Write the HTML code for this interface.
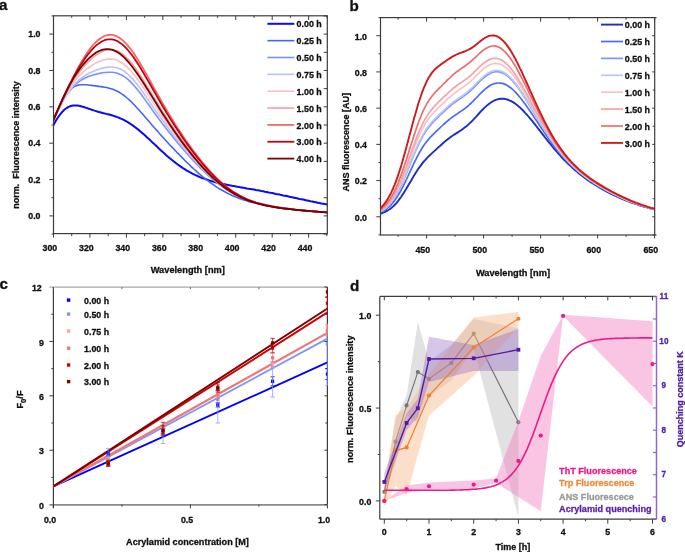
<!DOCTYPE html>
<html><head><meta charset="utf-8"><style>
html,body{margin:0;padding:0;background:#fff;}
svg{display:block;will-change:transform;}
text{stroke-width:0.3px;stroke-linejoin:round;}
</style></head><body>
<svg width="685" height="552" viewBox="0 0 685 552">
<defs>
<clipPath id="clipA"><rect x="53.5" y="15.8" width="273.8" height="217.79999999999998"/></clipPath>
<clipPath id="clipB"><rect x="380.5" y="17.6" width="274.20000000000005" height="217.4"/></clipPath>
<clipPath id="clipC"><rect x="53.4" y="287.1" width="274.0" height="217.5"/></clipPath>
<clipPath id="clipD"><rect x="379.8" y="296.4" width="276.7" height="222.80000000000007"/></clipPath>
</defs>
<rect width="685" height="552" fill="#fff"/>
<g clip-path="url(#clipA)">
<path d="M51.7,128.6L53.5,125.1L55.3,121.8L57.1,118.7L59.0,116.0L60.8,113.6L62.6,111.5L64.4,109.7L66.3,108.3L68.1,107.2L69.9,106.3L71.7,105.8L73.5,105.5L75.4,105.4L77.2,105.5L79.0,105.8L80.8,106.2L82.7,106.7L84.5,107.3L86.3,107.9L88.1,108.5L90.0,109.1L91.8,109.8L93.6,110.4L95.4,110.9L97.2,111.5L99.1,112.0L100.9,112.5L102.7,113.0L104.5,113.4L106.4,113.9L108.2,114.3L110.0,114.8L111.8,115.3L113.6,115.9L115.5,116.5L117.3,117.1L119.1,117.8L120.9,118.6L122.8,119.4L124.6,120.4L126.4,121.4L128.2,122.4L130.0,123.6L131.9,124.8L133.7,126.1L135.5,127.5L137.3,128.9L139.2,130.4L141.0,131.9L142.8,133.5L144.6,135.1L146.4,136.8L148.3,138.4L150.1,140.1L151.9,141.9L153.7,143.6L155.6,145.3L157.4,147.0L159.2,148.7L161.0,150.4L162.8,152.1L164.7,153.8L166.5,155.4L168.3,156.9L170.1,158.5L172.0,160.0L173.8,161.5L175.6,162.9L177.4,164.2L179.3,165.6L181.1,166.8L182.9,168.1L184.7,169.2L186.5,170.3L188.4,171.4L190.2,172.4L192.0,173.4L193.8,174.3L195.7,175.2L197.5,176.0L199.3,176.8L201.1,177.6L202.9,178.3L204.8,178.9L206.6,179.5L208.4,180.1L210.2,180.7L212.1,181.2L213.9,181.7L215.7,182.2L217.5,182.7L219.3,183.1L221.2,183.5L223.0,183.9L224.8,184.3L226.6,184.7L228.5,185.1L230.3,185.4L232.1,185.8L233.9,186.1L235.8,186.4L237.6,186.8L239.4,187.1L241.2,187.4L243.0,187.7L244.9,188.0L246.7,188.4L248.5,188.7L250.3,189.0L252.2,189.3L254.0,189.6L255.8,190.0L257.6,190.3L259.4,190.6L261.3,191.0L263.1,191.3L264.9,191.7L266.7,192.0L268.6,192.4L270.4,192.8L272.2,193.1L274.0,193.5L275.8,193.9L277.7,194.2L279.5,194.6L281.3,195.0L283.1,195.4L285.0,195.7L286.8,196.1L288.6,196.5L290.4,196.9L292.2,197.3L294.1,197.7L295.9,198.1L297.7,198.5L299.5,198.9L301.4,199.2L303.2,199.6L305.0,200.0L306.8,200.4L308.6,200.8L310.5,201.2L312.3,201.5L314.1,201.9L315.9,202.3L317.8,202.7L319.6,203.0L321.4,203.4L323.2,203.7L325.1,204.1L326.9,204.4L328.7,204.8" fill="none" stroke="#0a0af5" stroke-width="2.0" stroke-linejoin="round"/>
<path d="M51.7,125.7L53.5,120.6L55.3,115.9L57.1,111.3L59.0,107.1L60.8,103.3L62.6,99.8L64.4,96.7L66.3,94.0L68.1,91.7L69.9,89.8L71.7,88.2L73.5,87.0L75.4,86.1L77.2,85.4L79.0,85.0L80.8,84.7L82.7,84.7L84.5,84.7L86.3,84.8L88.1,85.0L90.0,85.2L91.8,85.4L93.6,85.7L95.4,85.9L97.2,86.1L99.1,86.4L100.9,86.6L102.7,86.9L104.5,87.2L106.4,87.5L108.2,87.9L110.0,88.4L111.8,88.9L113.6,89.6L115.5,90.4L117.3,91.2L119.1,92.2L120.9,93.4L122.8,94.6L124.6,96.0L126.4,97.5L128.2,99.0L130.0,100.7L131.9,102.5L133.7,104.3L135.5,106.2L137.3,108.2L139.2,110.2L141.0,112.3L142.8,114.3L144.6,116.4L146.4,118.5L148.3,120.6L150.1,122.8L151.9,124.9L153.7,127.0L155.6,129.0L157.4,131.1L159.2,133.2L161.0,135.2L162.8,137.2L164.7,139.2L166.5,141.2L168.3,143.2L170.1,145.2L172.0,147.1L173.8,149.0L175.6,151.0L177.4,152.9L179.3,154.7L181.1,156.6L182.9,158.4L184.7,160.3L186.5,162.0L188.4,163.8L190.2,165.6L192.0,167.3L193.8,169.0L195.7,170.6L197.5,172.3L199.3,173.9L201.1,175.4L202.9,176.9L204.8,178.4L206.6,179.8L208.4,181.2L210.2,182.6L212.1,183.9L213.9,185.2L215.7,186.4L217.5,187.6L219.3,188.7L221.2,189.8L223.0,190.8L224.8,191.8L226.6,192.8L228.5,193.7L230.3,194.6L232.1,195.4L233.9,196.2L235.8,197.0L237.6,197.7L239.4,198.4L241.2,199.0L243.0,199.7L244.9,200.3L246.7,200.8L248.5,201.4L250.3,201.9L252.2,202.4L254.0,202.8L255.8,203.3L257.6,203.7L259.4,204.1L261.3,204.5L263.1,204.9L264.9,205.2L266.7,205.6L268.6,205.9L270.4,206.2L272.2,206.5L274.0,206.8L275.8,207.1L277.7,207.4L279.5,207.6L281.3,207.9L283.1,208.2L285.0,208.4L286.8,208.6L288.6,208.9L290.4,209.1L292.2,209.3L294.1,209.5L295.9,209.7L297.7,209.9L299.5,210.1L301.4,210.3L303.2,210.5L305.0,210.7L306.8,210.9L308.6,211.0L310.5,211.2L312.3,211.4L314.1,211.5L315.9,211.7L317.8,211.9L319.6,212.0L321.4,212.2L323.2,212.3L325.1,212.4L326.9,212.6L328.7,212.7" fill="none" stroke="#4565f5" stroke-width="1.6" stroke-linejoin="round"/>
<path d="M51.7,125.2L53.5,120.4L55.3,116.3L57.1,112.4L59.0,108.6L60.8,105.0L62.6,101.7L64.4,98.5L66.3,95.6L68.1,92.9L69.9,90.5L71.7,88.3L73.5,86.3L75.4,84.5L77.2,82.9L79.0,81.5L80.8,80.3L82.7,79.2L84.5,78.2L86.3,77.4L88.1,76.6L90.0,76.0L91.8,75.4L93.6,74.8L95.4,74.4L97.2,73.9L99.1,73.5L100.9,73.1L102.7,72.8L104.5,72.5L106.4,72.4L108.2,72.2L110.0,72.2L111.8,72.3L113.6,72.5L115.5,72.8L117.3,73.3L119.1,73.9L120.9,74.7L122.8,75.7L124.6,76.9L126.4,78.2L128.2,79.7L130.0,81.4L131.9,83.2L133.7,85.2L135.5,87.2L137.3,89.4L139.2,91.7L141.0,94.1L142.8,96.6L144.6,99.1L146.4,101.6L148.3,104.2L150.1,106.8L151.9,109.4L153.7,112.1L155.6,114.5L157.4,116.9L159.2,119.4L161.0,121.8L162.8,124.2L164.7,126.6L166.5,128.9L168.3,131.2L170.1,133.5L172.0,135.8L173.8,138.1L175.6,140.3L177.4,142.5L179.3,144.7L181.1,146.9L182.9,149.0L184.7,151.1L186.5,153.2L188.4,155.2L190.2,157.3L192.0,159.3L193.8,161.2L195.7,163.1L197.5,165.0L199.3,166.9L201.1,168.7L202.9,170.5L204.8,172.2L206.6,173.9L208.4,175.6L210.2,177.2L212.1,178.8L213.9,180.3L215.7,181.7L217.5,183.2L219.3,184.5L221.2,185.8L223.0,187.1L224.8,188.3L226.6,189.5L228.5,190.6L230.3,191.7L232.1,192.7L233.9,193.7L235.8,194.7L237.6,195.6L239.4,196.4L241.2,197.2L243.0,198.0L244.9,198.7L246.7,199.4L248.5,200.1L250.3,200.7L252.2,201.3L254.0,201.8L255.8,202.4L257.6,202.9L259.4,203.4L261.3,203.8L263.1,204.2L264.9,204.6L266.7,205.0L268.6,205.4L270.4,205.8L272.2,206.1L274.0,206.4L275.8,206.7L277.7,207.0L279.5,207.3L281.3,207.6L283.1,207.8L285.0,208.1L286.8,208.3L288.6,208.6L290.4,208.8L292.2,209.0L294.1,209.2L295.9,209.5L297.7,209.7L299.5,209.9L301.4,210.0L303.2,210.2L305.0,210.4L306.8,210.6L308.6,210.8L310.5,210.9L312.3,211.1L314.1,211.3L315.9,211.4L317.8,211.6L319.6,211.7L321.4,211.9L323.2,212.0L325.1,212.2L326.9,212.3L328.7,212.4" fill="none" stroke="#7b92f6" stroke-width="1.6" stroke-linejoin="round"/>
<path d="M51.7,125.0L53.5,120.3L55.3,116.2L57.1,112.3L59.0,108.6L60.8,105.0L62.6,101.5L64.4,98.3L66.3,95.3L68.1,92.5L69.9,89.9L71.7,87.6L73.5,85.4L75.4,83.4L77.2,81.6L79.0,79.9L80.8,78.4L82.7,77.1L84.5,75.9L86.3,74.7L88.1,73.7L90.0,72.8L91.8,72.0L93.6,71.2L95.4,70.5L97.2,69.8L99.1,69.2L100.9,68.6L102.7,68.1L104.5,67.7L106.4,67.4L108.2,67.1L110.0,67.0L111.8,67.0L113.6,67.2L115.5,67.5L117.3,67.9L119.1,68.5L120.9,69.3L122.8,70.4L124.6,71.5L126.4,72.9L128.2,74.5L130.0,76.2L131.9,78.1L133.7,80.1L135.5,82.2L137.3,84.5L139.2,86.9L141.0,89.4L142.8,91.9L144.6,94.5L146.4,97.2L148.3,99.9L150.1,102.6L151.9,105.3L153.7,108.1L155.6,110.7L157.4,113.2L159.2,115.8L161.0,118.3L162.8,120.8L164.7,123.3L166.5,125.8L168.3,128.2L170.1,130.6L172.0,133.0L173.8,135.4L175.6,137.7L177.4,140.0L179.3,142.3L181.1,144.6L182.9,146.8L184.7,149.0L186.5,151.2L188.4,153.3L190.2,155.4L192.0,157.5L193.8,159.5L195.7,161.5L197.5,163.5L199.3,165.4L201.1,167.3L202.9,169.1L204.8,170.9L206.6,172.7L208.4,174.4L210.2,176.1L212.1,177.7L213.9,179.3L215.7,180.8L217.5,182.3L219.3,183.7L221.2,185.1L223.0,186.4L224.8,187.7L226.6,188.9L228.5,190.1L230.3,191.2L232.1,192.3L233.9,193.3L235.8,194.3L237.6,195.2L239.4,196.1L241.2,197.0L243.0,197.8L244.9,198.5L246.7,199.2L248.5,199.9L250.3,200.6L252.2,201.2L254.0,201.8L255.8,202.3L257.6,202.8L259.4,203.3L261.3,203.8L263.1,204.2L264.9,204.6L266.7,205.0L268.6,205.4L270.4,205.8L272.2,206.1L274.0,206.4L275.8,206.8L277.7,207.1L279.5,207.3L281.3,207.6L283.1,207.9L285.0,208.1L286.8,208.4L288.6,208.6L290.4,208.8L292.2,209.1L294.1,209.3L295.9,209.5L297.7,209.7L299.5,209.9L301.4,210.1L303.2,210.2L305.0,210.4L306.8,210.6L308.6,210.8L310.5,210.9L312.3,211.1L314.1,211.3L315.9,211.4L317.8,211.6L319.6,211.7L321.4,211.9L323.2,212.0L325.1,212.1L326.9,212.3L328.7,212.4" fill="none" stroke="#b6c3fa" stroke-width="1.6" stroke-linejoin="round"/>
<path d="M51.7,124.7L53.5,120.2L55.3,116.0L57.1,111.9L59.0,108.0L60.8,104.2L62.6,100.5L64.4,97.1L66.3,93.8L68.1,90.8L69.9,87.9L71.7,85.2L73.5,82.7L75.4,80.3L77.2,78.2L79.0,76.1L80.8,74.3L82.7,72.5L84.5,70.9L86.3,69.4L88.1,68.0L90.0,66.7L91.8,65.5L93.6,64.4L95.4,63.4L97.2,62.5L99.1,61.6L100.9,60.9L102.7,60.2L104.5,59.7L106.4,59.3L108.2,59.1L110.0,59.0L111.8,59.1L113.6,59.3L115.5,59.7L117.3,60.3L119.1,61.2L120.9,62.2L122.8,63.4L124.6,64.8L126.4,66.3L128.2,68.1L130.0,70.0L131.9,72.0L133.7,74.2L135.5,76.5L137.3,79.0L139.2,81.5L141.0,84.1L142.8,86.8L144.6,89.5L146.4,92.3L148.3,95.1L150.1,97.9L151.9,100.7L153.7,103.6L155.6,106.3L157.4,109.1L159.2,111.8L161.0,114.5L162.8,117.2L164.7,119.8L166.5,122.5L168.3,125.1L170.1,127.6L172.0,130.2L173.8,132.7L175.6,135.1L177.4,137.6L179.3,140.0L181.1,142.4L182.9,144.7L184.7,147.0L186.5,149.3L188.4,151.5L190.2,153.7L192.0,155.9L193.8,158.0L195.7,160.1L197.5,162.2L199.3,164.2L201.1,166.2L202.9,168.1L204.8,170.0L206.6,171.8L208.4,173.6L210.2,175.4L212.1,177.1L213.9,178.7L215.7,180.3L217.5,181.9L219.3,183.3L221.2,184.8L223.0,186.2L224.8,187.5L226.6,188.7L228.5,190.0L230.3,191.1L232.1,192.2L233.9,193.3L235.8,194.3L237.6,195.3L239.4,196.2L241.2,197.1L243.0,197.9L244.9,198.7L246.7,199.4L248.5,200.1L250.3,200.8L252.2,201.4L254.0,202.0L255.8,202.5L257.6,203.0L259.4,203.5L261.3,204.0L263.1,204.5L264.9,204.9L266.7,205.3L268.6,205.6L270.4,206.0L272.2,206.3L274.0,206.7L275.8,207.0L277.7,207.3L279.5,207.5L281.3,207.8L283.1,208.1L285.0,208.3L286.8,208.5L288.6,208.8L290.4,209.0L292.2,209.2L294.1,209.4L295.9,209.6L297.7,209.8L299.5,210.0L301.4,210.2L303.2,210.4L305.0,210.5L306.8,210.7L308.6,210.9L310.5,211.0L312.3,211.2L314.1,211.3L315.9,211.5L317.8,211.6L319.6,211.8L321.4,211.9L323.2,212.1L325.1,212.2L326.9,212.3L328.7,212.5" fill="none" stroke="#f8c0c0" stroke-width="1.6" stroke-linejoin="round"/>
<path d="M51.7,124.4L53.5,120.0L55.3,115.9L57.1,111.8L59.0,107.8L60.8,103.9L62.6,100.1L64.4,96.5L66.3,93.0L68.1,89.6L69.9,86.4L71.7,83.3L73.5,80.4L75.4,77.6L77.2,75.0L79.0,72.5L80.8,70.1L82.7,67.8L84.5,65.7L86.3,63.7L88.1,61.8L90.0,60.1L91.8,58.4L93.6,56.9L95.4,55.5L97.2,54.3L99.1,53.1L100.9,52.1L102.7,51.3L104.5,50.6L106.4,50.1L108.2,49.8L110.0,49.6L111.8,49.7L113.6,49.9L115.5,50.4L117.3,51.1L119.1,51.9L120.9,53.0L122.8,54.3L124.6,55.8L126.4,57.5L128.2,59.4L130.0,61.4L131.9,63.6L133.7,66.0L135.5,68.4L137.3,71.0L139.2,73.7L141.0,76.5L142.8,79.3L144.6,82.2L146.4,85.2L148.3,88.1L150.1,91.2L151.9,94.2L153.7,97.2L155.6,100.2L157.4,103.1L159.2,106.0L161.0,108.9L162.8,111.8L164.7,114.7L166.5,117.5L168.3,120.3L170.1,123.0L172.0,125.8L173.8,128.4L175.6,131.1L177.4,133.7L179.3,136.2L181.1,138.8L182.9,141.3L184.7,143.7L186.5,146.1L188.4,148.5L190.2,150.9L192.0,153.2L193.8,155.4L195.7,157.6L197.5,159.8L199.3,162.0L201.1,164.0L202.9,166.1L204.8,168.1L206.6,170.0L208.4,171.9L210.2,173.8L212.1,175.6L213.9,177.3L215.7,179.0L217.5,180.7L219.3,182.2L221.2,183.8L223.0,185.2L224.8,186.6L226.6,188.0L228.5,189.3L230.3,190.5L232.1,191.7L233.9,192.8L235.8,193.9L237.6,194.9L239.4,195.9L241.2,196.8L243.0,197.6L244.9,198.5L246.7,199.2L248.5,200.0L250.3,200.7L252.2,201.3L254.0,201.9L255.8,202.5L257.6,203.1L259.4,203.6L261.3,204.1L263.1,204.5L264.9,204.9L266.7,205.3L268.6,205.7L270.4,206.1L272.2,206.4L274.0,206.8L275.8,207.1L277.7,207.4L279.5,207.6L281.3,207.9L283.1,208.2L285.0,208.4L286.8,208.6L288.6,208.9L290.4,209.1L292.2,209.3L294.1,209.5L295.9,209.7L297.7,209.9L299.5,210.0L301.4,210.2L303.2,210.4L305.0,210.6L306.8,210.7L308.6,210.9L310.5,211.0L312.3,211.2L314.1,211.4L315.9,211.5L317.8,211.6L319.6,211.8L321.4,211.9L323.2,212.0L325.1,212.2L326.9,212.3L328.7,212.4" fill="none" stroke="#f5a0a0" stroke-width="1.6" stroke-linejoin="round"/>
<path d="M51.7,123.9L53.5,119.8L55.3,115.7L57.1,111.6L59.0,107.5L60.8,103.4L62.6,99.4L64.4,95.4L66.3,91.5L68.1,87.6L69.9,83.8L71.7,80.1L73.5,76.4L75.4,72.9L77.2,69.5L79.0,66.1L80.8,62.9L82.7,59.8L84.5,56.9L86.3,54.1L88.1,51.4L90.0,48.9L91.8,46.6L93.6,44.5L95.4,42.6L97.2,40.8L99.1,39.3L100.9,38.0L102.7,36.9L104.5,36.0L106.4,35.4L108.2,35.0L110.0,34.8L111.8,34.9L113.6,35.2L115.5,35.8L117.3,36.6L119.1,37.6L120.9,38.9L122.8,40.4L124.6,42.1L126.4,44.0L128.2,46.1L130.0,48.3L131.9,50.7L133.7,53.3L135.5,56.0L137.3,58.9L139.2,61.8L141.0,64.8L142.8,67.9L144.6,71.1L146.4,74.3L148.3,77.6L150.1,80.8L151.9,84.1L153.7,87.4L155.6,90.7L157.4,94.0L159.2,97.3L161.0,100.5L162.8,103.7L164.7,106.8L166.5,110.0L168.3,113.0L170.1,116.1L172.0,119.1L173.8,122.0L175.6,124.9L177.4,127.8L179.3,130.6L181.1,133.3L182.9,136.1L184.7,138.7L186.5,141.4L188.4,144.0L190.2,146.5L192.0,149.0L193.8,151.5L195.7,153.9L197.5,156.2L199.3,158.6L201.1,160.8L202.9,163.0L204.8,165.2L206.6,167.3L208.4,169.4L210.2,171.4L212.1,173.4L213.9,175.3L215.7,177.1L217.5,178.9L219.3,180.6L221.2,182.3L223.0,183.9L224.8,185.4L226.6,186.9L228.5,188.3L230.3,189.6L232.1,190.9L233.9,192.1L235.8,193.3L237.6,194.4L239.4,195.4L241.2,196.4L243.0,197.3L244.9,198.2L246.7,199.1L248.5,199.8L250.3,200.6L252.2,201.3L254.0,201.9L255.8,202.5L257.6,203.1L259.4,203.6L261.3,204.1L263.1,204.6L264.9,205.1L266.7,205.5L268.6,205.9L270.4,206.2L272.2,206.6L274.0,206.9L275.8,207.2L277.7,207.5L279.5,207.8L281.3,208.0L283.1,208.3L285.0,208.5L286.8,208.8L288.6,209.0L290.4,209.2L292.2,209.4L294.1,209.6L295.9,209.8L297.7,209.9L299.5,210.1L301.4,210.3L303.2,210.5L305.0,210.6L306.8,210.8L308.6,210.9L310.5,211.1L312.3,211.2L314.1,211.4L315.9,211.5L317.8,211.6L319.6,211.8L321.4,211.9L323.2,212.0L325.1,212.2L326.9,212.3L328.7,212.4" fill="none" stroke="#f06868" stroke-width="1.8" stroke-linejoin="round"/>
<path d="M51.7,124.1L53.5,119.9L55.3,115.7L57.1,111.6L59.0,107.5L60.8,103.4L62.6,99.4L64.4,95.5L66.3,91.7L68.1,87.9L69.9,84.3L71.7,80.8L73.5,77.3L75.4,74.0L77.2,70.8L79.0,67.7L80.8,64.7L82.7,61.9L84.5,59.2L86.3,56.6L88.1,54.2L90.0,52.0L91.8,49.8L93.6,47.9L95.4,46.2L97.2,44.6L99.1,43.2L100.9,42.0L102.7,41.0L104.5,40.2L106.4,39.7L108.2,39.4L110.0,39.3L111.8,39.4L113.6,39.7L115.5,40.3L117.3,41.1L119.1,42.2L120.9,43.4L122.8,44.9L124.6,46.6L126.4,48.4L128.2,50.5L130.0,52.7L131.9,55.0L133.7,57.6L135.5,60.2L137.3,63.0L139.2,65.8L141.0,68.8L142.8,71.8L144.6,74.9L146.4,78.0L148.3,81.1L150.1,84.3L151.9,87.5L153.7,90.7L155.6,93.9L157.4,97.1L159.2,100.2L161.0,103.4L162.8,106.5L164.7,109.5L166.5,112.6L168.3,115.5L170.1,118.5L172.0,121.4L173.8,124.3L175.6,127.1L177.4,129.8L179.3,132.6L181.1,135.3L182.9,137.9L184.7,140.5L186.5,143.1L188.4,145.6L190.2,148.1L192.0,150.5L193.8,152.9L195.7,155.3L197.5,157.6L199.3,159.8L201.1,162.0L202.9,164.2L204.8,166.3L206.6,168.4L208.4,170.4L210.2,172.3L212.1,174.2L213.9,176.1L215.7,177.9L217.5,179.6L219.3,181.3L221.2,182.9L223.0,184.4L224.8,185.9L226.6,187.3L228.5,188.7L230.3,190.0L232.1,191.3L233.9,192.5L235.8,193.6L237.6,194.6L239.4,195.7L241.2,196.6L243.0,197.5L244.9,198.4L246.7,199.2L248.5,200.0L250.3,200.7L252.2,201.4L254.0,202.0L255.8,202.6L257.6,203.1L259.4,203.7L261.3,204.2L263.1,204.6L264.9,205.1L266.7,205.5L268.6,205.9L270.4,206.2L272.2,206.6L274.0,206.9L275.8,207.2L277.7,207.5L279.5,207.8L281.3,208.0L283.1,208.3L285.0,208.5L286.8,208.7L288.6,209.0L290.4,209.2L292.2,209.4L294.1,209.6L295.9,209.8L297.7,209.9L299.5,210.1L301.4,210.3L303.2,210.5L305.0,210.6L306.8,210.8L308.6,210.9L310.5,211.1L312.3,211.2L314.1,211.4L315.9,211.5L317.8,211.7L319.6,211.8L321.4,211.9L323.2,212.1L325.1,212.2L326.9,212.3L328.7,212.4" fill="none" stroke="#c80010" stroke-width="1.8" stroke-linejoin="round"/>
<path d="M51.7,124.4L53.5,120.0L55.3,115.6L57.1,111.2L59.0,107.0L60.8,102.8L62.6,98.8L64.4,95.0L66.3,91.3L68.1,87.7L69.9,84.4L71.7,81.2L73.5,78.1L75.4,75.2L77.2,72.5L79.0,69.9L80.8,67.5L82.7,65.2L84.5,63.1L86.3,61.0L88.1,59.2L90.0,57.4L91.8,55.8L93.6,54.4L95.4,53.1L97.2,52.0L99.1,51.0L100.9,50.3L102.7,49.7L104.5,49.3L106.4,49.1L108.2,49.1L110.0,49.3L111.8,49.7L113.6,50.3L115.5,51.1L117.3,52.1L119.1,53.3L120.9,54.6L122.8,56.2L124.6,57.9L126.4,59.8L128.2,61.8L130.0,64.0L131.9,66.3L133.7,68.7L135.5,71.2L137.3,73.8L139.2,76.5L141.0,79.2L142.8,82.0L144.6,84.8L146.4,87.7L148.3,90.6L150.1,93.5L151.9,96.4L153.7,99.3L155.6,102.3L157.4,105.2L159.2,108.2L161.0,111.1L162.8,113.9L164.7,116.8L166.5,119.6L168.3,122.3L170.1,125.1L172.0,127.8L173.8,130.4L175.6,133.0L177.4,135.6L179.3,138.2L181.1,140.7L182.9,143.1L184.7,145.6L186.5,148.0L188.4,150.3L190.2,152.6L192.0,154.9L193.8,157.1L195.7,159.3L197.5,161.5L199.3,163.6L201.1,165.6L202.9,167.7L204.8,169.6L206.6,171.5L208.4,173.4L210.2,175.2L212.1,177.0L213.9,178.7L215.7,180.3L217.5,181.9L219.3,183.4L221.2,184.9L223.0,186.3L224.8,187.7L226.6,189.0L228.5,190.3L230.3,191.5L232.1,192.6L233.9,193.7L235.8,194.7L237.6,195.7L239.4,196.6L241.2,197.5L243.0,198.3L244.9,199.1L246.7,199.9L248.5,200.6L250.3,201.2L252.2,201.8L254.0,202.4L255.8,203.0L257.6,203.5L259.4,204.0L261.3,204.4L263.1,204.9L264.9,205.3L266.7,205.7L268.6,206.0L270.4,206.4L272.2,206.7L274.0,207.0L275.8,207.3L277.7,207.6L279.5,207.9L281.3,208.1L283.1,208.4L285.0,208.6L286.8,208.8L288.6,209.0L290.4,209.2L292.2,209.4L294.1,209.6L295.9,209.8L297.7,210.0L299.5,210.2L301.4,210.4L303.2,210.5L305.0,210.7L306.8,210.9L308.6,211.0L310.5,211.2L312.3,211.3L314.1,211.5L315.9,211.6L317.8,211.8L319.6,211.9L321.4,212.0L323.2,212.2L325.1,212.3L326.9,212.4L328.7,212.5" fill="none" stroke="#7d0000" stroke-width="1.8" stroke-linejoin="round"/>
</g>
<rect x="53.5" y="15.8" width="273.8" height="217.79999999999998" fill="none" stroke="#3c3c3c" stroke-width="1.2"/>
<line x1="53.50" y1="234.08" x2="51.50" y2="234.08" stroke="#3c3c3c" stroke-width="1.0" />
<line x1="327.30" y1="234.08" x2="323.70" y2="234.08" stroke="#3c3c3c" stroke-width="1.0" />
<line x1="53.50" y1="215.90" x2="49.30" y2="215.90" stroke="#3c3c3c" stroke-width="1.0" />
<line x1="327.30" y1="215.90" x2="323.70" y2="215.90" stroke="#3c3c3c" stroke-width="1.0" />
<text x="40.50" y="219.00" font-size="8.8" font-family="Liberation Sans, sans-serif" font-weight="bold" fill="#111" stroke="#111" text-anchor="end" >0.0</text>
<line x1="53.50" y1="197.72" x2="51.50" y2="197.72" stroke="#3c3c3c" stroke-width="1.0" />
<line x1="327.30" y1="197.72" x2="323.70" y2="197.72" stroke="#3c3c3c" stroke-width="1.0" />
<line x1="53.50" y1="179.54" x2="49.30" y2="179.54" stroke="#3c3c3c" stroke-width="1.0" />
<line x1="327.30" y1="179.54" x2="323.70" y2="179.54" stroke="#3c3c3c" stroke-width="1.0" />
<text x="40.50" y="182.64" font-size="8.8" font-family="Liberation Sans, sans-serif" font-weight="bold" fill="#111" stroke="#111" text-anchor="end" >0.2</text>
<line x1="53.50" y1="161.36" x2="51.50" y2="161.36" stroke="#3c3c3c" stroke-width="1.0" />
<line x1="327.30" y1="161.36" x2="323.70" y2="161.36" stroke="#3c3c3c" stroke-width="1.0" />
<line x1="53.50" y1="143.18" x2="49.30" y2="143.18" stroke="#3c3c3c" stroke-width="1.0" />
<line x1="327.30" y1="143.18" x2="323.70" y2="143.18" stroke="#3c3c3c" stroke-width="1.0" />
<text x="40.50" y="146.28" font-size="8.8" font-family="Liberation Sans, sans-serif" font-weight="bold" fill="#111" stroke="#111" text-anchor="end" >0.4</text>
<line x1="53.50" y1="125.00" x2="51.50" y2="125.00" stroke="#3c3c3c" stroke-width="1.0" />
<line x1="327.30" y1="125.00" x2="323.70" y2="125.00" stroke="#3c3c3c" stroke-width="1.0" />
<line x1="53.50" y1="106.82" x2="49.30" y2="106.82" stroke="#3c3c3c" stroke-width="1.0" />
<line x1="327.30" y1="106.82" x2="323.70" y2="106.82" stroke="#3c3c3c" stroke-width="1.0" />
<text x="40.50" y="109.92" font-size="8.8" font-family="Liberation Sans, sans-serif" font-weight="bold" fill="#111" stroke="#111" text-anchor="end" >0.6</text>
<line x1="53.50" y1="88.64" x2="51.50" y2="88.64" stroke="#3c3c3c" stroke-width="1.0" />
<line x1="327.30" y1="88.64" x2="323.70" y2="88.64" stroke="#3c3c3c" stroke-width="1.0" />
<line x1="53.50" y1="70.46" x2="49.30" y2="70.46" stroke="#3c3c3c" stroke-width="1.0" />
<line x1="327.30" y1="70.46" x2="323.70" y2="70.46" stroke="#3c3c3c" stroke-width="1.0" />
<text x="40.50" y="73.56" font-size="8.8" font-family="Liberation Sans, sans-serif" font-weight="bold" fill="#111" stroke="#111" text-anchor="end" >0.8</text>
<line x1="53.50" y1="52.28" x2="51.50" y2="52.28" stroke="#3c3c3c" stroke-width="1.0" />
<line x1="327.30" y1="52.28" x2="323.70" y2="52.28" stroke="#3c3c3c" stroke-width="1.0" />
<line x1="53.50" y1="34.10" x2="49.30" y2="34.10" stroke="#3c3c3c" stroke-width="1.0" />
<line x1="327.30" y1="34.10" x2="323.70" y2="34.10" stroke="#3c3c3c" stroke-width="1.0" />
<text x="40.50" y="37.20" font-size="8.8" font-family="Liberation Sans, sans-serif" font-weight="bold" fill="#111" stroke="#111" text-anchor="end" >1.0</text>
<line x1="53.50" y1="15.92" x2="51.50" y2="15.92" stroke="#3c3c3c" stroke-width="1.0" />
<line x1="327.30" y1="15.92" x2="323.70" y2="15.92" stroke="#3c3c3c" stroke-width="1.0" />
<line x1="53.50" y1="233.60" x2="53.50" y2="237.60" stroke="#3c3c3c" stroke-width="1.0" />
<line x1="53.50" y1="15.80" x2="53.50" y2="20.00" stroke="#3c3c3c" stroke-width="1.0" />
<text x="49.90" y="251.00" font-size="8.8" font-family="Liberation Sans, sans-serif" font-weight="bold" fill="#111" stroke="#111" text-anchor="middle" >300</text>
<line x1="71.72" y1="233.60" x2="71.72" y2="236.10" stroke="#3c3c3c" stroke-width="1.0" />
<line x1="71.72" y1="15.80" x2="71.72" y2="17.80" stroke="#3c3c3c" stroke-width="1.0" />
<line x1="89.95" y1="233.60" x2="89.95" y2="237.60" stroke="#3c3c3c" stroke-width="1.0" />
<line x1="89.95" y1="15.80" x2="89.95" y2="20.00" stroke="#3c3c3c" stroke-width="1.0" />
<text x="86.35" y="251.00" font-size="8.8" font-family="Liberation Sans, sans-serif" font-weight="bold" fill="#111" stroke="#111" text-anchor="middle" >320</text>
<line x1="108.17" y1="233.60" x2="108.17" y2="236.10" stroke="#3c3c3c" stroke-width="1.0" />
<line x1="108.17" y1="15.80" x2="108.17" y2="17.80" stroke="#3c3c3c" stroke-width="1.0" />
<line x1="126.40" y1="233.60" x2="126.40" y2="237.60" stroke="#3c3c3c" stroke-width="1.0" />
<line x1="126.40" y1="15.80" x2="126.40" y2="20.00" stroke="#3c3c3c" stroke-width="1.0" />
<text x="122.80" y="251.00" font-size="8.8" font-family="Liberation Sans, sans-serif" font-weight="bold" fill="#111" stroke="#111" text-anchor="middle" >340</text>
<line x1="144.62" y1="233.60" x2="144.62" y2="236.10" stroke="#3c3c3c" stroke-width="1.0" />
<line x1="144.62" y1="15.80" x2="144.62" y2="17.80" stroke="#3c3c3c" stroke-width="1.0" />
<line x1="162.85" y1="233.60" x2="162.85" y2="237.60" stroke="#3c3c3c" stroke-width="1.0" />
<line x1="162.85" y1="15.80" x2="162.85" y2="20.00" stroke="#3c3c3c" stroke-width="1.0" />
<text x="159.25" y="251.00" font-size="8.8" font-family="Liberation Sans, sans-serif" font-weight="bold" fill="#111" stroke="#111" text-anchor="middle" >360</text>
<line x1="181.07" y1="233.60" x2="181.07" y2="236.10" stroke="#3c3c3c" stroke-width="1.0" />
<line x1="181.07" y1="15.80" x2="181.07" y2="17.80" stroke="#3c3c3c" stroke-width="1.0" />
<line x1="199.30" y1="233.60" x2="199.30" y2="237.60" stroke="#3c3c3c" stroke-width="1.0" />
<line x1="199.30" y1="15.80" x2="199.30" y2="20.00" stroke="#3c3c3c" stroke-width="1.0" />
<text x="195.70" y="251.00" font-size="8.8" font-family="Liberation Sans, sans-serif" font-weight="bold" fill="#111" stroke="#111" text-anchor="middle" >380</text>
<line x1="217.53" y1="233.60" x2="217.53" y2="236.10" stroke="#3c3c3c" stroke-width="1.0" />
<line x1="217.53" y1="15.80" x2="217.53" y2="17.80" stroke="#3c3c3c" stroke-width="1.0" />
<line x1="235.75" y1="233.60" x2="235.75" y2="237.60" stroke="#3c3c3c" stroke-width="1.0" />
<line x1="235.75" y1="15.80" x2="235.75" y2="20.00" stroke="#3c3c3c" stroke-width="1.0" />
<text x="232.15" y="251.00" font-size="8.8" font-family="Liberation Sans, sans-serif" font-weight="bold" fill="#111" stroke="#111" text-anchor="middle" >400</text>
<line x1="253.97" y1="233.60" x2="253.97" y2="236.10" stroke="#3c3c3c" stroke-width="1.0" />
<line x1="253.97" y1="15.80" x2="253.97" y2="17.80" stroke="#3c3c3c" stroke-width="1.0" />
<line x1="272.20" y1="233.60" x2="272.20" y2="237.60" stroke="#3c3c3c" stroke-width="1.0" />
<line x1="272.20" y1="15.80" x2="272.20" y2="20.00" stroke="#3c3c3c" stroke-width="1.0" />
<text x="268.60" y="251.00" font-size="8.8" font-family="Liberation Sans, sans-serif" font-weight="bold" fill="#111" stroke="#111" text-anchor="middle" >420</text>
<line x1="290.43" y1="233.60" x2="290.43" y2="236.10" stroke="#3c3c3c" stroke-width="1.0" />
<line x1="290.43" y1="15.80" x2="290.43" y2="17.80" stroke="#3c3c3c" stroke-width="1.0" />
<line x1="308.65" y1="233.60" x2="308.65" y2="237.60" stroke="#3c3c3c" stroke-width="1.0" />
<line x1="308.65" y1="15.80" x2="308.65" y2="20.00" stroke="#3c3c3c" stroke-width="1.0" />
<text x="305.05" y="251.00" font-size="8.8" font-family="Liberation Sans, sans-serif" font-weight="bold" fill="#111" stroke="#111" text-anchor="middle" >440</text>
<line x1="326.88" y1="233.60" x2="326.88" y2="236.10" stroke="#3c3c3c" stroke-width="1.0" />
<line x1="326.88" y1="15.80" x2="326.88" y2="17.80" stroke="#3c3c3c" stroke-width="1.0" />
<text x="187.80" y="273.40" font-size="9.25" font-family="Liberation Sans, sans-serif" font-weight="bold" fill="#111" stroke="#111" text-anchor="middle" >Wavelength [nm]</text>
<text transform="translate(18.6,144.9) rotate(-90)" font-size="9" font-family="Liberation Sans, sans-serif" font-weight="bold" fill="#111" stroke="#111" text-anchor="middle" xml:space="preserve">norm.  Fluorescence intensity</text>
<line x1="267.40" y1="23.80" x2="294.30" y2="23.80" stroke="#0a0af5" stroke-width="2.0" />
<text x="296.60" y="27.40" font-size="8.9" font-family="Liberation Sans, sans-serif" font-weight="bold" fill="#111" stroke="#111" text-anchor="start" >0.00 h</text>
<line x1="267.40" y1="40.65" x2="294.30" y2="40.65" stroke="#4565f5" stroke-width="1.6" />
<text x="296.60" y="44.25" font-size="8.9" font-family="Liberation Sans, sans-serif" font-weight="bold" fill="#111" stroke="#111" text-anchor="start" >0.25 h</text>
<line x1="267.40" y1="57.50" x2="294.30" y2="57.50" stroke="#7b92f6" stroke-width="1.6" />
<text x="296.60" y="61.10" font-size="8.9" font-family="Liberation Sans, sans-serif" font-weight="bold" fill="#111" stroke="#111" text-anchor="start" >0.50 h</text>
<line x1="267.40" y1="74.35" x2="294.30" y2="74.35" stroke="#b6c3fa" stroke-width="1.6" />
<text x="296.60" y="77.95" font-size="8.9" font-family="Liberation Sans, sans-serif" font-weight="bold" fill="#111" stroke="#111" text-anchor="start" >0.75 h</text>
<line x1="267.40" y1="91.20" x2="294.30" y2="91.20" stroke="#f8c0c0" stroke-width="1.6" />
<text x="296.60" y="94.80" font-size="8.9" font-family="Liberation Sans, sans-serif" font-weight="bold" fill="#111" stroke="#111" text-anchor="start" >1.00 h</text>
<line x1="267.40" y1="108.05" x2="294.30" y2="108.05" stroke="#f5a0a0" stroke-width="1.6" />
<text x="296.60" y="111.65" font-size="8.9" font-family="Liberation Sans, sans-serif" font-weight="bold" fill="#111" stroke="#111" text-anchor="start" >1.50 h</text>
<line x1="267.40" y1="124.90" x2="294.30" y2="124.90" stroke="#f06868" stroke-width="1.8" />
<text x="296.60" y="128.50" font-size="8.9" font-family="Liberation Sans, sans-serif" font-weight="bold" fill="#111" stroke="#111" text-anchor="start" >2.00 h</text>
<line x1="267.40" y1="141.75" x2="294.30" y2="141.75" stroke="#c80010" stroke-width="1.8" />
<text x="296.60" y="145.35" font-size="8.9" font-family="Liberation Sans, sans-serif" font-weight="bold" fill="#111" stroke="#111" text-anchor="start" >3.00 h</text>
<line x1="267.40" y1="158.60" x2="294.30" y2="158.60" stroke="#7d0000" stroke-width="1.8" />
<text x="296.60" y="162.20" font-size="8.9" font-family="Liberation Sans, sans-serif" font-weight="bold" fill="#111" stroke="#111" text-anchor="start" >4.00 h</text>
<text x="-1.00" y="9.90" font-size="15.2" font-family="Liberation Sans, sans-serif" font-weight="bold" fill="#111" stroke="#111" text-anchor="start" >a</text>
<g clip-path="url(#clipB)">
<path d="M379.9,213.8L381.5,213.3L383.1,212.7L384.8,212.1L386.4,211.2L388.0,210.3L389.7,209.2L391.3,208.0L392.9,206.6L394.6,205.0L396.2,203.3L397.8,201.3L399.4,199.2L401.1,197.0L402.7,194.5L404.3,192.0L406.0,189.3L407.6,186.6L409.2,183.8L410.9,181.0L412.5,178.2L414.1,175.4L415.8,172.8L417.4,170.2L419.0,167.8L420.7,165.6L422.3,163.4L423.9,161.4L425.6,159.6L427.2,157.8L428.8,156.2L430.5,154.6L432.1,153.1L433.7,151.6L435.4,150.1L437.0,148.6L438.6,147.1L440.3,145.7L441.9,144.2L443.5,142.7L445.2,141.3L446.8,140.0L448.4,138.7L450.1,137.4L451.7,136.3L453.3,135.2L455.0,134.1L456.6,133.1L458.2,132.1L459.8,131.0L461.5,130.0L463.1,128.8L464.7,127.6L466.4,126.3L468.0,124.9L469.6,123.4L471.3,121.8L472.9,120.1L474.5,118.3L476.2,116.6L477.8,114.8L479.4,113.0L481.1,111.2L482.7,109.5L484.3,107.9L486.0,106.4L487.6,104.9L489.2,103.7L490.9,102.5L492.5,101.5L494.1,100.6L495.8,99.9L497.4,99.4L499.0,99.0L500.7,98.8L502.3,98.7L503.9,98.8L505.6,99.1L507.2,99.5L508.8,100.1L510.5,100.8L512.1,101.6L513.7,102.6L515.4,103.8L517.0,105.0L518.6,106.4L520.2,107.8L521.9,109.4L523.5,111.0L525.1,112.8L526.8,114.6L528.4,116.5L530.0,118.4L531.7,120.4L533.3,122.4L534.9,124.4L536.6,126.5L538.2,128.6L539.8,130.7L541.5,132.8L543.1,134.9L544.7,137.0L546.4,139.1L548.0,141.1L549.6,143.2L551.3,145.2L552.9,147.2L554.5,149.1L556.2,151.0L557.8,152.9L559.4,154.7L561.1,156.5L562.7,158.3L564.3,160.0L566.0,161.7L567.6,163.3L569.2,164.9L570.9,166.4L572.5,167.9L574.1,169.4L575.8,170.8L577.4,172.1L579.0,173.5L580.6,174.8L582.3,176.1L583.9,177.3L585.5,178.5L587.2,179.7L588.8,180.8L590.4,181.9L592.1,183.0L593.7,184.0L595.3,185.0L597.0,186.0L598.6,187.0L600.2,188.0L601.9,188.9L603.5,189.8L605.1,190.7L606.8,191.6L608.4,192.4L610.0,193.3L611.7,194.1L613.3,194.9L614.9,195.6L616.6,196.4L618.2,197.1L619.8,197.9L621.5,198.6L623.1,199.3L624.7,199.9L626.4,200.6L628.0,201.2L629.6,201.9L631.3,202.5L632.9,203.1L634.5,203.6L636.2,204.2L637.8,204.7L639.4,205.3L641.0,205.8L642.7,206.3L644.3,206.8L645.9,207.2L647.6,207.7L649.2,208.1L650.8,208.5L652.5,208.9L654.1,209.3L655.7,209.7" fill="none" stroke="#1a2fc2" stroke-width="1.9" stroke-linejoin="round"/>
<path d="M379.9,212.7L381.5,212.0L383.1,211.1L384.8,210.2L386.4,209.0L388.0,207.7L389.7,206.3L391.3,204.6L392.9,202.7L394.6,200.6L396.2,198.3L397.8,195.8L399.4,193.1L401.1,190.2L402.7,187.1L404.3,183.9L406.0,180.5L407.6,177.0L409.2,173.5L410.9,169.9L412.5,166.4L414.1,163.0L415.8,159.6L417.4,156.4L419.0,153.3L420.7,150.5L422.3,147.8L423.9,145.3L425.6,143.0L427.2,140.9L428.8,139.0L430.5,137.2L432.1,135.4L433.7,133.8L435.4,132.2L437.0,130.6L438.6,129.1L440.3,127.5L441.9,126.0L443.5,124.5L445.2,123.0L446.8,121.6L448.4,120.2L450.1,118.9L451.7,117.6L453.3,116.4L455.0,115.3L456.6,114.2L458.2,113.1L459.8,112.0L461.5,110.9L463.1,109.8L464.7,108.6L466.4,107.3L468.0,106.0L469.6,104.5L471.3,103.0L472.9,101.4L474.5,99.7L476.2,98.0L477.8,96.3L479.4,94.5L481.1,92.9L482.7,91.3L484.3,89.8L486.0,88.4L487.6,87.2L489.2,86.0L490.9,85.1L492.5,84.3L494.1,83.7L495.8,83.3L497.4,83.0L499.0,83.0L500.7,83.1L502.3,83.4L503.9,83.9L505.6,84.6L507.2,85.5L508.8,86.5L510.5,87.7L512.1,89.0L513.7,90.5L515.4,92.1L517.0,93.9L518.6,95.7L520.2,97.7L521.9,99.7L523.5,101.9L525.1,104.1L526.8,106.4L528.4,108.7L530.0,111.1L531.7,113.5L533.3,115.9L534.9,118.4L536.6,120.8L538.2,123.3L539.8,125.8L541.5,128.2L543.1,130.6L544.7,133.0L546.4,135.4L548.0,137.7L549.6,140.0L551.3,142.2L552.9,144.4L554.5,146.6L556.2,148.7L557.8,150.7L559.4,152.7L561.1,154.6L562.7,156.5L564.3,158.3L566.0,160.1L567.6,161.8L569.2,163.5L570.9,165.1L572.5,166.6L574.1,168.2L575.8,169.6L577.4,171.0L579.0,172.4L580.6,173.8L582.3,175.1L583.9,176.3L585.5,177.5L587.2,178.7L588.8,179.9L590.4,181.0L592.1,182.1L593.7,183.2L595.3,184.2L597.0,185.2L598.6,186.2L600.2,187.2L601.9,188.1L603.5,189.1L605.1,190.0L606.8,190.8L608.4,191.7L610.0,192.6L611.7,193.4L613.3,194.2L614.9,195.0L616.6,195.8L618.2,196.5L619.8,197.3L621.5,198.0L623.1,198.7L624.7,199.4L626.4,200.1L628.0,200.8L629.6,201.4L631.3,202.0L632.9,202.7L634.5,203.2L636.2,203.8L637.8,204.4L639.4,204.9L641.0,205.5L642.7,206.0L644.3,206.5L645.9,207.0L647.6,207.4L649.2,207.9L650.8,208.3L652.5,208.8L654.1,209.2L655.7,209.6" fill="none" stroke="#4a6bf2" stroke-width="1.7" stroke-linejoin="round"/>
<path d="M379.9,211.9L381.5,211.0L383.1,210.0L384.8,208.8L386.4,207.5L388.0,205.9L389.7,204.2L391.3,202.2L392.9,200.0L394.6,197.6L396.2,194.9L397.8,192.0L399.4,188.9L401.1,185.5L402.7,181.9L404.3,178.2L406.0,174.4L407.6,170.4L409.2,166.3L410.9,162.3L412.5,158.3L414.1,154.3L415.8,150.5L417.4,146.8L419.0,143.3L420.7,140.0L422.3,137.0L423.9,134.2L425.6,131.6L427.2,129.2L428.8,127.1L430.5,125.1L432.1,123.2L433.7,121.4L435.4,119.8L437.0,118.1L438.6,116.6L440.3,115.0L441.9,113.5L443.5,111.9L445.2,110.4L446.8,108.9L448.4,107.5L450.1,106.1L451.7,104.7L453.3,103.4L455.0,102.2L456.6,101.1L458.2,99.9L459.8,98.8L461.5,97.7L463.1,96.6L464.7,95.4L466.4,94.2L468.0,92.9L469.6,91.5L471.3,90.0L472.9,88.4L474.5,86.8L476.2,85.1L477.8,83.4L479.4,81.8L481.1,80.2L482.7,78.7L484.3,77.3L486.0,76.0L487.6,74.8L489.2,73.9L490.9,73.0L492.5,72.4L494.1,72.0L495.8,71.7L497.4,71.7L499.0,71.9L500.7,72.3L502.3,72.9L503.9,73.6L505.6,74.6L507.2,75.8L508.8,77.1L510.5,78.6L512.1,80.3L513.7,82.1L515.4,84.1L517.0,86.1L518.6,88.3L520.2,90.6L521.9,93.0L523.5,95.5L525.1,98.1L526.8,100.7L528.4,103.3L530.0,106.0L531.7,108.7L533.3,111.5L534.9,114.2L536.6,116.9L538.2,119.7L539.8,122.4L541.5,125.0L543.1,127.7L544.7,130.3L546.4,132.8L548.0,135.3L549.6,137.8L551.3,140.2L552.9,142.5L554.5,144.8L556.2,147.0L557.8,149.2L559.4,151.3L561.1,153.3L562.7,155.3L564.3,157.2L566.0,159.0L567.6,160.8L569.2,162.5L570.9,164.2L572.5,165.8L574.1,167.3L575.8,168.8L577.4,170.3L579.0,171.7L580.6,173.0L582.3,174.4L583.9,175.6L585.5,176.9L587.2,178.1L588.8,179.2L590.4,180.4L592.1,181.5L593.7,182.6L595.3,183.6L597.0,184.7L598.6,185.7L600.2,186.6L601.9,187.6L603.5,188.5L605.1,189.4L606.8,190.3L608.4,191.2L610.0,192.1L611.7,192.9L613.3,193.7L614.9,194.6L616.6,195.3L618.2,196.1L619.8,196.9L621.5,197.6L623.1,198.4L624.7,199.1L626.4,199.8L628.0,200.4L629.6,201.1L631.3,201.7L632.9,202.4L634.5,203.0L636.2,203.6L637.8,204.2L639.4,204.7L641.0,205.3L642.7,205.8L644.3,206.3L645.9,206.8L647.6,207.3L649.2,207.7L650.8,208.2L652.5,208.6L654.1,209.0L655.7,209.4" fill="none" stroke="#7b95f6" stroke-width="1.7" stroke-linejoin="round"/>
<path d="M379.9,211.8L381.5,210.9L383.1,209.9L384.8,208.7L386.4,207.3L388.0,205.7L389.7,204.0L391.3,202.0L392.9,199.7L394.6,197.3L396.2,194.5L397.8,191.6L399.4,188.4L401.1,185.0L402.7,181.4L404.3,177.6L406.0,173.7L407.6,169.6L409.2,165.6L410.9,161.4L412.5,157.4L414.1,153.4L415.8,149.5L417.4,145.7L419.0,142.2L420.7,138.9L422.3,135.8L423.9,132.9L425.6,130.3L427.2,127.9L428.8,125.7L430.5,123.7L432.1,121.8L433.7,120.1L435.4,118.4L437.0,116.8L438.6,115.2L440.3,113.6L441.9,112.1L443.5,110.5L445.2,109.0L446.8,107.5L448.4,106.0L450.1,104.6L451.7,103.3L453.3,102.0L455.0,100.8L456.6,99.6L458.2,98.5L459.8,97.4L461.5,96.3L463.1,95.2L464.7,94.0L466.4,92.7L468.0,91.4L469.6,90.0L471.3,88.5L472.9,87.0L474.5,85.4L476.2,83.7L477.8,82.0L479.4,80.4L481.1,78.8L482.7,77.3L484.3,75.9L486.0,74.6L487.6,73.5L489.2,72.5L490.9,71.7L492.5,71.1L494.1,70.7L495.8,70.5L497.4,70.5L499.0,70.7L500.7,71.1L502.3,71.7L503.9,72.5L505.6,73.5L507.2,74.7L508.8,76.1L510.5,77.6L512.1,79.3L513.7,81.2L515.4,83.2L517.0,85.3L518.6,87.5L520.2,89.9L521.9,92.3L523.5,94.8L525.1,97.4L526.8,100.0L528.4,102.7L530.0,105.5L531.7,108.2L533.3,111.0L534.9,113.7L536.6,116.5L538.2,119.2L539.8,122.0L541.5,124.7L543.1,127.3L544.7,130.0L546.4,132.5L548.0,135.1L549.6,137.6L551.3,140.0L552.9,142.3L554.5,144.6L556.2,146.9L557.8,149.0L559.4,151.1L561.1,153.2L562.7,155.1L564.3,157.0L566.0,158.9L567.6,160.7L569.2,162.4L570.9,164.1L572.5,165.7L574.1,167.2L575.8,168.7L577.4,170.2L579.0,171.6L580.6,173.0L582.3,174.3L583.9,175.6L585.5,176.8L587.2,178.0L588.8,179.2L590.4,180.3L592.1,181.4L593.7,182.5L595.3,183.6L597.0,184.6L598.6,185.6L600.2,186.6L601.9,187.5L603.5,188.5L605.1,189.4L606.8,190.3L608.4,191.2L610.0,192.0L611.7,192.9L613.3,193.7L614.9,194.5L616.6,195.3L618.2,196.1L619.8,196.8L621.5,197.6L623.1,198.3L624.7,199.0L626.4,199.7L628.0,200.4L629.6,201.1L631.3,201.7L632.9,202.3L634.5,202.9L636.2,203.5L637.8,204.1L639.4,204.7L641.0,205.2L642.7,205.8L644.3,206.3L645.9,206.8L647.6,207.3L649.2,207.7L650.8,208.2L652.5,208.6L654.1,209.0L655.7,209.4" fill="none" stroke="#b6c5fb" stroke-width="1.7" stroke-linejoin="round"/>
<path d="M379.9,211.3L381.5,210.4L383.1,209.2L384.8,207.9L386.4,206.4L388.0,204.7L389.7,202.7L391.3,200.5L392.9,198.1L394.6,195.4L396.2,192.4L397.8,189.2L399.4,185.8L401.1,182.1L402.7,178.2L404.3,174.2L406.0,169.9L407.6,165.6L409.2,161.2L410.9,156.8L412.5,152.4L414.1,148.1L415.8,143.9L417.4,139.9L419.0,136.1L420.7,132.5L422.3,129.1L423.9,126.1L425.6,123.3L427.2,120.8L428.8,118.5L430.5,116.3L432.1,114.4L433.7,112.5L435.4,110.8L437.0,109.1L438.6,107.5L440.3,105.9L441.9,104.4L443.5,102.8L445.2,101.3L446.8,99.7L448.4,98.2L450.1,96.8L451.7,95.4L453.3,94.1L455.0,92.8L456.6,91.6L458.2,90.4L459.8,89.3L461.5,88.2L463.1,87.1L464.7,85.9L466.4,84.7L468.0,83.4L469.6,82.1L471.3,80.6L472.9,79.1L474.5,77.5L476.2,75.8L477.8,74.2L479.4,72.6L481.1,71.0L482.7,69.6L484.3,68.2L486.0,67.0L487.6,65.9L489.2,65.1L490.9,64.3L492.5,63.8L494.1,63.5L495.8,63.4L497.4,63.6L499.0,63.9L500.7,64.5L502.3,65.2L503.9,66.2L505.6,67.4L507.2,68.8L508.8,70.3L510.5,72.1L512.1,74.0L513.7,76.0L515.4,78.2L517.0,80.6L518.6,83.0L520.2,85.6L521.9,88.2L523.5,90.9L525.1,93.7L526.8,96.6L528.4,99.5L530.0,102.4L531.7,105.3L533.3,108.2L534.9,111.2L536.6,114.1L538.2,117.0L539.8,119.9L541.5,122.7L543.1,125.5L544.7,128.3L546.4,131.0L548.0,133.6L549.6,136.2L551.3,138.7L552.9,141.2L554.5,143.6L556.2,145.9L557.8,148.1L559.4,150.3L561.1,152.4L562.7,154.4L564.3,156.3L566.0,158.2L567.6,160.0L569.2,161.8L570.9,163.5L572.5,165.1L574.1,166.7L575.8,168.2L577.4,169.7L579.0,171.1L580.6,172.5L582.3,173.9L583.9,175.1L585.5,176.4L587.2,177.6L588.8,178.8L590.4,179.9L592.1,181.1L593.7,182.1L595.3,183.2L597.0,184.2L598.6,185.2L600.2,186.2L601.9,187.2L603.5,188.1L605.1,189.1L606.8,190.0L608.4,190.9L610.0,191.7L611.7,192.6L613.3,193.4L614.9,194.2L616.6,195.0L618.2,195.8L619.8,196.6L621.5,197.3L623.1,198.1L624.7,198.8L626.4,199.5L628.0,200.2L629.6,200.9L631.3,201.5L632.9,202.2L634.5,202.8L636.2,203.4L637.8,204.0L639.4,204.5L641.0,205.1L642.7,205.6L644.3,206.2L645.9,206.7L647.6,207.2L649.2,207.6L650.8,208.1L652.5,208.5L654.1,209.0L655.7,209.4" fill="none" stroke="#f8c2c2" stroke-width="1.7" stroke-linejoin="round"/>
<path d="M379.9,211.0L381.5,209.9L383.1,208.7L384.8,207.3L386.4,205.7L388.0,203.9L389.7,201.8L391.3,199.5L392.9,196.9L394.6,194.0L396.2,190.9L397.8,187.6L399.4,183.9L401.1,180.0L402.7,175.9L404.3,171.7L406.0,167.2L407.6,162.7L409.2,158.0L410.9,153.4L412.5,148.8L414.1,144.2L415.8,139.8L417.4,135.6L419.0,131.6L420.7,127.8L422.3,124.3L423.9,121.1L425.6,118.2L427.2,115.6L428.8,113.2L430.5,111.0L432.1,108.9L433.7,107.1L435.4,105.3L437.0,103.6L438.6,102.0L440.3,100.4L441.9,98.8L443.5,97.2L445.2,95.6L446.8,94.1L448.4,92.6L450.1,91.1L451.7,89.7L453.3,88.3L455.0,87.0L456.6,85.8L458.2,84.6L459.8,83.5L461.5,82.4L463.1,81.2L464.7,80.1L466.4,78.9L468.0,77.6L469.6,76.3L471.3,74.8L472.9,73.3L474.5,71.7L476.2,70.1L477.8,68.5L479.4,66.9L481.1,65.4L482.7,64.0L484.3,62.7L486.0,61.5L487.6,60.5L489.2,59.6L490.9,59.0L492.5,58.5L494.1,58.3L495.8,58.3L497.4,58.5L499.0,59.0L500.7,59.6L502.3,60.5L503.9,61.6L505.6,63.0L507.2,64.5L508.8,66.2L510.5,68.1L512.1,70.1L513.7,72.3L515.4,74.7L517.0,77.1L518.6,79.7L520.2,82.5L521.9,85.2L523.5,88.1L525.1,91.1L526.8,94.0L528.4,97.1L530.0,100.1L531.7,103.2L533.3,106.3L534.9,109.3L536.6,112.4L538.2,115.4L539.8,118.4L541.5,121.3L543.1,124.2L544.7,127.1L546.4,129.9L548.0,132.6L549.6,135.2L551.3,137.8L552.9,140.3L554.5,142.8L556.2,145.1L557.8,147.4L559.4,149.6L561.1,151.8L562.7,153.8L564.3,155.8L566.0,157.7L567.6,159.6L569.2,161.4L570.9,163.1L572.5,164.8L574.1,166.4L575.8,167.9L577.4,169.4L579.0,170.8L580.6,172.2L582.3,173.5L583.9,174.8L585.5,176.1L587.2,177.3L588.8,178.5L590.4,179.7L592.1,180.8L593.7,181.9L595.3,182.9L597.0,184.0L598.6,185.0L600.2,186.0L601.9,187.0L603.5,187.9L605.1,188.8L606.8,189.8L608.4,190.6L610.0,191.5L611.7,192.4L613.3,193.2L614.9,194.0L616.6,194.8L618.2,195.6L619.8,196.4L621.5,197.2L623.1,197.9L624.7,198.6L626.4,199.4L628.0,200.0L629.6,200.7L631.3,201.4L632.9,202.0L634.5,202.7L636.2,203.3L637.8,203.9L639.4,204.4L641.0,205.0L642.7,205.6L644.3,206.1L645.9,206.6L647.6,207.1L649.2,207.6L650.8,208.0L652.5,208.5L654.1,208.9L655.7,209.3" fill="none" stroke="#f5a2a2" stroke-width="1.7" stroke-linejoin="round"/>
<path d="M379.9,210.2L381.5,208.9L383.1,207.5L384.8,205.9L386.4,204.1L388.0,202.0L389.7,199.6L391.3,197.0L392.9,194.1L394.6,190.8L396.2,187.3L397.8,183.5L399.4,179.4L401.1,175.1L402.7,170.5L404.3,165.7L406.0,160.7L407.6,155.7L409.2,150.5L410.9,145.3L412.5,140.2L414.1,135.1L415.8,130.2L417.4,125.5L419.0,121.0L420.7,116.8L422.3,112.9L423.9,109.3L425.6,106.1L427.2,103.2L428.8,100.6L430.5,98.2L432.1,96.0L433.7,94.0L435.4,92.2L437.0,90.4L438.6,88.8L440.3,87.1L441.9,85.5L443.5,83.9L445.2,82.3L446.8,80.7L448.4,79.1L450.1,77.6L451.7,76.0L453.3,74.6L455.0,73.2L456.6,71.9L458.2,70.7L459.8,69.6L461.5,68.4L463.1,67.3L464.7,66.2L466.4,65.0L468.0,63.8L469.6,62.5L471.3,61.1L472.9,59.6L474.5,58.1L476.2,56.6L477.8,55.0L479.4,53.5L481.1,52.0L482.7,50.6L484.3,49.4L486.0,48.4L487.6,47.5L489.2,46.8L490.9,46.3L492.5,46.0L494.1,45.9L495.8,46.1L497.4,46.6L499.0,47.3L500.7,48.2L502.3,49.4L503.9,50.8L505.6,52.4L507.2,54.2L508.8,56.3L510.5,58.5L512.1,60.9L513.7,63.5L515.4,66.2L517.0,69.0L518.6,72.0L520.2,75.0L521.9,78.2L523.5,81.4L525.1,84.7L526.8,88.0L528.4,91.4L530.0,94.8L531.7,98.2L533.3,101.5L534.9,104.9L536.6,108.2L538.2,111.5L539.8,114.8L541.5,118.0L543.1,121.1L544.7,124.2L546.4,127.2L548.0,130.1L549.6,132.9L551.3,135.7L552.9,138.3L554.5,140.9L556.2,143.4L557.8,145.8L559.4,148.1L561.1,150.4L562.7,152.5L564.3,154.6L566.0,156.6L567.6,158.5L569.2,160.4L570.9,162.1L572.5,163.8L574.1,165.5L575.8,167.1L577.4,168.6L579.0,170.0L580.6,171.4L582.3,172.8L583.9,174.1L585.5,175.4L587.2,176.6L588.8,177.8L590.4,179.0L592.1,180.1L593.7,181.3L595.3,182.3L597.0,183.4L598.6,184.4L600.2,185.4L601.9,186.4L603.5,187.4L605.1,188.3L606.8,189.2L608.4,190.1L610.0,191.0L611.7,191.9L613.3,192.7L614.9,193.6L616.6,194.4L618.2,195.2L619.8,196.0L621.5,196.8L623.1,197.5L624.7,198.3L626.4,199.0L628.0,199.7L629.6,200.4L631.3,201.1L632.9,201.7L634.5,202.4L636.2,203.0L637.8,203.6L639.4,204.2L641.0,204.8L642.7,205.3L644.3,205.9L645.9,206.4L647.6,206.9L649.2,207.4L650.8,207.9L652.5,208.3L654.1,208.8L655.7,209.2" fill="none" stroke="#ee6c6c" stroke-width="1.7" stroke-linejoin="round"/>
<path d="M379.9,208.6L381.5,207.1L383.1,205.4L384.8,203.4L386.4,201.1L388.0,198.5L389.7,195.6L391.3,192.4L392.9,188.8L394.6,184.9L396.2,180.7L397.8,176.1L399.4,171.2L401.1,166.0L402.7,160.5L404.3,154.7L406.0,148.8L407.6,142.8L409.2,136.6L410.9,130.4L412.5,124.3L414.1,118.3L415.8,112.4L417.4,106.8L419.0,101.5L420.7,96.5L422.3,91.8L423.9,87.6L425.6,83.8L427.2,80.4L428.8,77.5L430.5,74.9L432.1,72.6L433.7,70.7L435.4,69.0L437.0,67.5L438.6,66.2L440.3,64.9L441.9,63.8L443.5,62.6L445.2,61.5L446.8,60.3L448.4,59.2L450.1,58.1L451.7,57.1L453.3,56.2L455.0,55.3L456.6,54.5L458.2,53.8L459.8,53.2L461.5,52.6L463.1,52.0L464.7,51.4L466.4,50.7L468.0,50.0L469.6,49.1L471.3,48.1L472.9,47.1L474.5,45.9L476.2,44.6L477.8,43.3L479.4,41.9L481.1,40.6L482.7,39.4L484.3,38.3L486.0,37.3L487.6,36.5L489.2,35.9L490.9,35.6L492.5,35.4L494.1,35.5L495.8,35.9L497.4,36.5L499.0,37.4L500.7,38.6L502.3,40.0L503.9,41.6L505.6,43.5L507.2,45.6L508.8,47.9L510.5,50.4L512.1,53.1L513.7,56.0L515.4,59.0L517.0,62.2L518.6,65.4L520.2,68.8L521.9,72.2L523.5,75.8L525.1,79.4L526.8,83.0L528.4,86.6L530.0,90.3L531.7,93.9L533.3,97.6L534.9,101.2L536.6,104.8L538.2,108.3L539.8,111.7L541.5,115.2L543.1,118.5L544.7,121.7L546.4,124.9L548.0,128.0L549.6,131.0L551.3,133.9L552.9,136.7L554.5,139.4L556.2,142.0L557.8,144.5L559.4,146.9L561.1,149.2L562.7,151.4L564.3,153.6L566.0,155.6L567.6,157.6L569.2,159.5L570.9,161.3L572.5,163.1L574.1,164.7L575.8,166.3L577.4,167.9L579.0,169.4L580.6,170.8L582.3,172.2L583.9,173.5L585.5,174.8L587.2,176.1L588.8,177.3L590.4,178.5L592.1,179.6L593.7,180.7L595.3,181.8L597.0,182.9L598.6,183.9L600.2,184.9L601.9,185.9L603.5,186.9L605.1,187.8L606.8,188.8L608.4,189.7L610.0,190.6L611.7,191.5L613.3,192.3L614.9,193.2L616.6,194.0L618.2,194.8L619.8,195.6L621.5,196.4L623.1,197.2L624.7,197.9L626.4,198.7L628.0,199.4L629.6,200.1L631.3,200.8L632.9,201.5L634.5,202.1L636.2,202.8L637.8,203.4L639.4,204.0L641.0,204.6L642.7,205.2L644.3,205.7L645.9,206.2L647.6,206.8L649.2,207.3L650.8,207.8L652.5,208.2L654.1,208.7L655.7,209.1" fill="none" stroke="#cc1c1c" stroke-width="1.9" stroke-linejoin="round"/>
</g>
<rect x="380.5" y="17.6" width="274.20000000000005" height="217.4" fill="none" stroke="#3c3c3c" stroke-width="1.2"/>
<line x1="654.70" y1="17.60" x2="656.50" y2="17.60" stroke="#3c3c3c" stroke-width="1.2" />
<line x1="654.70" y1="235.00" x2="656.50" y2="235.00" stroke="#3c3c3c" stroke-width="1.2" />
<line x1="380.50" y1="234.91" x2="378.50" y2="234.91" stroke="#3c3c3c" stroke-width="1.0" />
<line x1="654.70" y1="234.91" x2="652.70" y2="234.91" stroke="#3c3c3c" stroke-width="1.0" />
<line x1="380.50" y1="216.80" x2="376.30" y2="216.80" stroke="#3c3c3c" stroke-width="1.0" />
<line x1="654.70" y1="216.80" x2="652.20" y2="216.80" stroke="#3c3c3c" stroke-width="1.0" />
<text x="367.00" y="220.70" font-size="8.8" font-family="Liberation Sans, sans-serif" font-weight="bold" fill="#111" stroke="#111" text-anchor="end" >0.0</text>
<line x1="380.50" y1="198.69" x2="378.50" y2="198.69" stroke="#3c3c3c" stroke-width="1.0" />
<line x1="654.70" y1="198.69" x2="652.70" y2="198.69" stroke="#3c3c3c" stroke-width="1.0" />
<line x1="380.50" y1="180.58" x2="376.30" y2="180.58" stroke="#3c3c3c" stroke-width="1.0" />
<line x1="654.70" y1="180.58" x2="652.20" y2="180.58" stroke="#3c3c3c" stroke-width="1.0" />
<text x="367.00" y="184.48" font-size="8.8" font-family="Liberation Sans, sans-serif" font-weight="bold" fill="#111" stroke="#111" text-anchor="end" >0.2</text>
<line x1="380.50" y1="162.47" x2="378.50" y2="162.47" stroke="#3c3c3c" stroke-width="1.0" />
<line x1="654.70" y1="162.47" x2="652.70" y2="162.47" stroke="#3c3c3c" stroke-width="1.0" />
<line x1="380.50" y1="144.36" x2="376.30" y2="144.36" stroke="#3c3c3c" stroke-width="1.0" />
<line x1="654.70" y1="144.36" x2="652.20" y2="144.36" stroke="#3c3c3c" stroke-width="1.0" />
<text x="367.00" y="148.26" font-size="8.8" font-family="Liberation Sans, sans-serif" font-weight="bold" fill="#111" stroke="#111" text-anchor="end" >0.4</text>
<line x1="380.50" y1="126.25" x2="378.50" y2="126.25" stroke="#3c3c3c" stroke-width="1.0" />
<line x1="654.70" y1="126.25" x2="652.70" y2="126.25" stroke="#3c3c3c" stroke-width="1.0" />
<line x1="380.50" y1="108.14" x2="376.30" y2="108.14" stroke="#3c3c3c" stroke-width="1.0" />
<line x1="654.70" y1="108.14" x2="652.20" y2="108.14" stroke="#3c3c3c" stroke-width="1.0" />
<text x="367.00" y="112.04" font-size="8.8" font-family="Liberation Sans, sans-serif" font-weight="bold" fill="#111" stroke="#111" text-anchor="end" >0.6</text>
<line x1="380.50" y1="90.03" x2="378.50" y2="90.03" stroke="#3c3c3c" stroke-width="1.0" />
<line x1="654.70" y1="90.03" x2="652.70" y2="90.03" stroke="#3c3c3c" stroke-width="1.0" />
<line x1="380.50" y1="71.92" x2="376.30" y2="71.92" stroke="#3c3c3c" stroke-width="1.0" />
<line x1="654.70" y1="71.92" x2="652.20" y2="71.92" stroke="#3c3c3c" stroke-width="1.0" />
<text x="367.00" y="75.82" font-size="8.8" font-family="Liberation Sans, sans-serif" font-weight="bold" fill="#111" stroke="#111" text-anchor="end" >0.8</text>
<line x1="380.50" y1="53.81" x2="378.50" y2="53.81" stroke="#3c3c3c" stroke-width="1.0" />
<line x1="654.70" y1="53.81" x2="652.70" y2="53.81" stroke="#3c3c3c" stroke-width="1.0" />
<line x1="380.50" y1="35.70" x2="376.30" y2="35.70" stroke="#3c3c3c" stroke-width="1.0" />
<line x1="654.70" y1="35.70" x2="652.20" y2="35.70" stroke="#3c3c3c" stroke-width="1.0" />
<text x="367.00" y="39.60" font-size="8.8" font-family="Liberation Sans, sans-serif" font-weight="bold" fill="#111" stroke="#111" text-anchor="end" >1.0</text>
<line x1="380.50" y1="17.59" x2="378.50" y2="17.59" stroke="#3c3c3c" stroke-width="1.0" />
<line x1="654.70" y1="17.59" x2="652.70" y2="17.59" stroke="#3c3c3c" stroke-width="1.0" />
<line x1="398.10" y1="235.00" x2="398.10" y2="236.80" stroke="#3c3c3c" stroke-width="1.0" />
<line x1="398.10" y1="17.60" x2="398.10" y2="19.60" stroke="#3c3c3c" stroke-width="1.0" />
<line x1="426.60" y1="235.00" x2="426.60" y2="238.50" stroke="#3c3c3c" stroke-width="1.0" />
<line x1="426.60" y1="17.60" x2="426.60" y2="21.60" stroke="#3c3c3c" stroke-width="1.0" />
<text x="422.80" y="253.10" font-size="8.8" font-family="Liberation Sans, sans-serif" font-weight="bold" fill="#111" stroke="#111" text-anchor="middle" >450</text>
<line x1="455.10" y1="235.00" x2="455.10" y2="236.80" stroke="#3c3c3c" stroke-width="1.0" />
<line x1="455.10" y1="17.60" x2="455.10" y2="19.60" stroke="#3c3c3c" stroke-width="1.0" />
<line x1="483.60" y1="235.00" x2="483.60" y2="238.50" stroke="#3c3c3c" stroke-width="1.0" />
<line x1="483.60" y1="17.60" x2="483.60" y2="21.60" stroke="#3c3c3c" stroke-width="1.0" />
<text x="479.80" y="253.10" font-size="8.8" font-family="Liberation Sans, sans-serif" font-weight="bold" fill="#111" stroke="#111" text-anchor="middle" >500</text>
<line x1="512.10" y1="235.00" x2="512.10" y2="236.80" stroke="#3c3c3c" stroke-width="1.0" />
<line x1="512.10" y1="17.60" x2="512.10" y2="19.60" stroke="#3c3c3c" stroke-width="1.0" />
<line x1="540.60" y1="235.00" x2="540.60" y2="238.50" stroke="#3c3c3c" stroke-width="1.0" />
<line x1="540.60" y1="17.60" x2="540.60" y2="21.60" stroke="#3c3c3c" stroke-width="1.0" />
<text x="536.80" y="253.10" font-size="8.8" font-family="Liberation Sans, sans-serif" font-weight="bold" fill="#111" stroke="#111" text-anchor="middle" >550</text>
<line x1="569.10" y1="235.00" x2="569.10" y2="236.80" stroke="#3c3c3c" stroke-width="1.0" />
<line x1="569.10" y1="17.60" x2="569.10" y2="19.60" stroke="#3c3c3c" stroke-width="1.0" />
<line x1="597.60" y1="235.00" x2="597.60" y2="238.50" stroke="#3c3c3c" stroke-width="1.0" />
<line x1="597.60" y1="17.60" x2="597.60" y2="21.60" stroke="#3c3c3c" stroke-width="1.0" />
<text x="593.80" y="253.10" font-size="8.8" font-family="Liberation Sans, sans-serif" font-weight="bold" fill="#111" stroke="#111" text-anchor="middle" >600</text>
<line x1="626.10" y1="235.00" x2="626.10" y2="236.80" stroke="#3c3c3c" stroke-width="1.0" />
<line x1="626.10" y1="17.60" x2="626.10" y2="19.60" stroke="#3c3c3c" stroke-width="1.0" />
<line x1="654.60" y1="235.00" x2="654.60" y2="238.50" stroke="#3c3c3c" stroke-width="1.0" />
<line x1="654.60" y1="17.60" x2="654.60" y2="21.60" stroke="#3c3c3c" stroke-width="1.0" />
<text x="650.80" y="253.10" font-size="8.8" font-family="Liberation Sans, sans-serif" font-weight="bold" fill="#111" stroke="#111" text-anchor="middle" >650</text>
<text x="513.00" y="275.70" font-size="9.25" font-family="Liberation Sans, sans-serif" font-weight="bold" fill="#111" stroke="#111" text-anchor="middle" >Wavelength [nm]</text>
<text transform="translate(349.4,142.3) rotate(-90)" font-size="9" font-family="Liberation Sans, sans-serif" font-weight="bold" fill="#111" stroke="#111" text-anchor="middle">ANS fluorescence [AU]</text>
<line x1="601.00" y1="24.60" x2="623.00" y2="24.60" stroke="#1a2fc2" stroke-width="1.9" />
<text x="624.80" y="28.20" font-size="8.9" font-family="Liberation Sans, sans-serif" font-weight="bold" fill="#111" stroke="#111" text-anchor="start" >0.00 h</text>
<line x1="601.00" y1="41.50" x2="623.00" y2="41.50" stroke="#4a6bf2" stroke-width="1.7" />
<text x="624.80" y="45.10" font-size="8.9" font-family="Liberation Sans, sans-serif" font-weight="bold" fill="#111" stroke="#111" text-anchor="start" >0.25 h</text>
<line x1="601.00" y1="58.40" x2="623.00" y2="58.40" stroke="#7b95f6" stroke-width="1.7" />
<text x="624.80" y="62.00" font-size="8.9" font-family="Liberation Sans, sans-serif" font-weight="bold" fill="#111" stroke="#111" text-anchor="start" >0.50 h</text>
<line x1="601.00" y1="75.30" x2="623.00" y2="75.30" stroke="#b6c5fb" stroke-width="1.7" />
<text x="624.80" y="78.90" font-size="8.9" font-family="Liberation Sans, sans-serif" font-weight="bold" fill="#111" stroke="#111" text-anchor="start" >0.75 h</text>
<line x1="601.00" y1="92.20" x2="623.00" y2="92.20" stroke="#f8c2c2" stroke-width="1.7" />
<text x="624.80" y="95.80" font-size="8.9" font-family="Liberation Sans, sans-serif" font-weight="bold" fill="#111" stroke="#111" text-anchor="start" >1.00 h</text>
<line x1="601.00" y1="109.10" x2="623.00" y2="109.10" stroke="#f5a2a2" stroke-width="1.7" />
<text x="624.80" y="112.70" font-size="8.9" font-family="Liberation Sans, sans-serif" font-weight="bold" fill="#111" stroke="#111" text-anchor="start" >1.50 h</text>
<line x1="601.00" y1="126.00" x2="623.00" y2="126.00" stroke="#ee6c6c" stroke-width="1.7" />
<text x="624.80" y="129.60" font-size="8.9" font-family="Liberation Sans, sans-serif" font-weight="bold" fill="#111" stroke="#111" text-anchor="start" >2.00 h</text>
<line x1="601.00" y1="142.90" x2="623.00" y2="142.90" stroke="#cc1c1c" stroke-width="1.9" />
<text x="624.80" y="146.50" font-size="8.9" font-family="Liberation Sans, sans-serif" font-weight="bold" fill="#111" stroke="#111" text-anchor="start" >3.00 h</text>
<text x="349.60" y="11.00" font-size="15.2" font-family="Liberation Sans, sans-serif" font-weight="bold" fill="#111" stroke="#111" text-anchor="start" >b</text>
<line x1="49.40" y1="287.10" x2="327.40" y2="287.10" stroke="#a8a8a8" stroke-width="1.4" />
<line x1="327.40" y1="287.10" x2="327.40" y2="504.60" stroke="#3c3c3c" stroke-width="1.2" />
<line x1="49.40" y1="504.90" x2="327.40" y2="504.90" stroke="#8a8a8a" stroke-width="1.6" />
<line x1="53.40" y1="287.10" x2="53.40" y2="508.10" stroke="#3c3c3c" stroke-width="1.2" />
<line x1="327.40" y1="504.60" x2="324.40" y2="504.60" stroke="#3c3c3c" stroke-width="1.0" />
<text x="43.90" y="508.70" font-size="8.8" font-family="Liberation Sans, sans-serif" font-weight="bold" fill="#111" stroke="#111" text-anchor="end" >0</text>
<line x1="53.40" y1="477.41" x2="51.40" y2="477.41" stroke="#3c3c3c" stroke-width="1.0" />
<line x1="327.40" y1="477.41" x2="325.40" y2="477.41" stroke="#3c3c3c" stroke-width="1.0" />
<line x1="53.40" y1="450.21" x2="49.40" y2="450.21" stroke="#3c3c3c" stroke-width="1.0" />
<line x1="327.40" y1="450.21" x2="324.40" y2="450.21" stroke="#3c3c3c" stroke-width="1.0" />
<text x="43.90" y="454.31" font-size="8.8" font-family="Liberation Sans, sans-serif" font-weight="bold" fill="#111" stroke="#111" text-anchor="end" >3</text>
<line x1="53.40" y1="423.02" x2="51.40" y2="423.02" stroke="#3c3c3c" stroke-width="1.0" />
<line x1="327.40" y1="423.02" x2="325.40" y2="423.02" stroke="#3c3c3c" stroke-width="1.0" />
<line x1="53.40" y1="395.82" x2="49.40" y2="395.82" stroke="#3c3c3c" stroke-width="1.0" />
<line x1="327.40" y1="395.82" x2="324.40" y2="395.82" stroke="#3c3c3c" stroke-width="1.0" />
<text x="43.90" y="399.92" font-size="8.8" font-family="Liberation Sans, sans-serif" font-weight="bold" fill="#111" stroke="#111" text-anchor="end" >6</text>
<line x1="53.40" y1="368.62" x2="51.40" y2="368.62" stroke="#3c3c3c" stroke-width="1.0" />
<line x1="327.40" y1="368.62" x2="325.40" y2="368.62" stroke="#3c3c3c" stroke-width="1.0" />
<line x1="53.40" y1="341.43" x2="49.40" y2="341.43" stroke="#3c3c3c" stroke-width="1.0" />
<line x1="327.40" y1="341.43" x2="324.40" y2="341.43" stroke="#3c3c3c" stroke-width="1.0" />
<text x="43.90" y="345.53" font-size="8.8" font-family="Liberation Sans, sans-serif" font-weight="bold" fill="#111" stroke="#111" text-anchor="end" >9</text>
<line x1="53.40" y1="314.24" x2="51.40" y2="314.24" stroke="#3c3c3c" stroke-width="1.0" />
<line x1="327.40" y1="314.24" x2="325.40" y2="314.24" stroke="#3c3c3c" stroke-width="1.0" />
<line x1="327.40" y1="287.04" x2="324.40" y2="287.04" stroke="#3c3c3c" stroke-width="1.0" />
<text x="41.70" y="291.14" font-size="8.8" font-family="Liberation Sans, sans-serif" font-weight="bold" fill="#111" stroke="#111" text-anchor="end" >12</text>
<line x1="53.40" y1="504.60" x2="53.40" y2="508.40" stroke="#3c3c3c" stroke-width="1.0" />
<text x="50.00" y="522.90" font-size="8.8" font-family="Liberation Sans, sans-serif" font-weight="bold" fill="#111" stroke="#111" text-anchor="middle" >0.0</text>
<line x1="53.40" y1="287.10" x2="53.40" y2="289.10" stroke="#666" stroke-width="1.0" />
<line x1="121.90" y1="504.60" x2="121.90" y2="506.60" stroke="#3c3c3c" stroke-width="1.0" />
<line x1="121.90" y1="287.10" x2="121.90" y2="289.10" stroke="#666" stroke-width="1.0" />
<line x1="190.40" y1="504.60" x2="190.40" y2="508.40" stroke="#3c3c3c" stroke-width="1.0" />
<text x="187.00" y="522.90" font-size="8.8" font-family="Liberation Sans, sans-serif" font-weight="bold" fill="#111" stroke="#111" text-anchor="middle" >0.5</text>
<line x1="190.40" y1="287.10" x2="190.40" y2="289.10" stroke="#666" stroke-width="1.0" />
<line x1="258.90" y1="504.60" x2="258.90" y2="506.60" stroke="#3c3c3c" stroke-width="1.0" />
<line x1="258.90" y1="287.10" x2="258.90" y2="289.10" stroke="#666" stroke-width="1.0" />
<line x1="327.40" y1="504.60" x2="327.40" y2="508.40" stroke="#3c3c3c" stroke-width="1.0" />
<text x="324.00" y="522.90" font-size="8.8" font-family="Liberation Sans, sans-serif" font-weight="bold" fill="#111" stroke="#111" text-anchor="middle" >1.0</text>
<line x1="327.40" y1="287.10" x2="327.40" y2="289.10" stroke="#666" stroke-width="1.0" />
<g clip-path="url(#clipC)">
<line x1="53.40" y1="486.47" x2="327.40" y2="362.46" stroke="#0000ff" stroke-width="1.9" />
<line x1="53.40" y1="486.47" x2="327.40" y2="338.71" stroke="#8195f8" stroke-width="1.9" />
<line x1="53.40" y1="486.47" x2="327.40" y2="333.27" stroke="#f9a3a3" stroke-width="1.9" />
<line x1="53.40" y1="486.47" x2="327.40" y2="332.73" stroke="#f07575" stroke-width="1.9" />
<line x1="53.40" y1="486.47" x2="327.40" y2="312.42" stroke="#cc0000" stroke-width="1.9" />
<line x1="53.40" y1="486.47" x2="327.40" y2="308.43" stroke="#800000" stroke-width="1.9" />
</g>
<g clip-path="url(#clipC)">
</g>
<line x1="108.20" y1="451.48" x2="108.20" y2="455.83" stroke="#0000ff" stroke-width="0.9" opacity="0.8"/>
<g clip-path="url(#clipC)">
<line x1="106.00" y1="451.48" x2="110.40" y2="451.48" stroke="#0000ff" stroke-width="0.9" opacity="0.8"/>
<line x1="106.00" y1="455.83" x2="110.40" y2="455.83" stroke="#0000ff" stroke-width="0.9" opacity="0.8"/>
<rect x="106.60" y="452.05" width="3.2" height="3.2" fill="#0000ff"/>
</g>
<line x1="163.00" y1="428.45" x2="163.00" y2="435.71" stroke="#0000ff" stroke-width="0.9" opacity="0.8"/>
<g clip-path="url(#clipC)">
<line x1="160.80" y1="428.45" x2="165.20" y2="428.45" stroke="#0000ff" stroke-width="0.9" opacity="0.8"/>
<line x1="160.80" y1="435.71" x2="165.20" y2="435.71" stroke="#0000ff" stroke-width="0.9" opacity="0.8"/>
<rect x="161.40" y="430.48" width="3.2" height="3.2" fill="#0000ff"/>
</g>
<line x1="217.80" y1="402.71" x2="217.80" y2="407.06" stroke="#0000ff" stroke-width="0.9" opacity="0.8"/>
<g clip-path="url(#clipC)">
<line x1="215.60" y1="402.71" x2="220.00" y2="402.71" stroke="#0000ff" stroke-width="0.9" opacity="0.8"/>
<line x1="215.60" y1="407.06" x2="220.00" y2="407.06" stroke="#0000ff" stroke-width="0.9" opacity="0.8"/>
<rect x="216.20" y="403.29" width="3.2" height="3.2" fill="#0000ff"/>
</g>
<line x1="272.60" y1="376.78" x2="272.60" y2="385.85" stroke="#0000ff" stroke-width="0.9" opacity="0.8"/>
<g clip-path="url(#clipC)">
<line x1="270.40" y1="376.78" x2="274.80" y2="376.78" stroke="#0000ff" stroke-width="0.9" opacity="0.8"/>
<line x1="270.40" y1="385.85" x2="274.80" y2="385.85" stroke="#0000ff" stroke-width="0.9" opacity="0.8"/>
<rect x="271.00" y="379.72" width="3.2" height="3.2" fill="#0000ff"/>
</g>
<line x1="327.40" y1="368.62" x2="327.40" y2="379.50" stroke="#0000ff" stroke-width="0.9" opacity="0.8"/>
<g clip-path="url(#clipC)">
<line x1="325.20" y1="368.62" x2="329.60" y2="368.62" stroke="#0000ff" stroke-width="0.9" opacity="0.8"/>
<line x1="325.20" y1="379.50" x2="329.60" y2="379.50" stroke="#0000ff" stroke-width="0.9" opacity="0.8"/>
<rect x="325.80" y="372.46" width="3.2" height="3.2" fill="#0000ff"/>
</g>
<line x1="108.20" y1="448.40" x2="108.20" y2="460.73" stroke="#8195f8" stroke-width="0.9" opacity="0.8"/>
<g clip-path="url(#clipC)">
<line x1="106.00" y1="448.40" x2="110.40" y2="448.40" stroke="#8195f8" stroke-width="0.9" opacity="0.8"/>
<line x1="106.00" y1="460.73" x2="110.40" y2="460.73" stroke="#8195f8" stroke-width="0.9" opacity="0.8"/>
<rect x="106.60" y="455.50" width="3.2" height="3.2" fill="#8195f8"/>
</g>
<line x1="163.00" y1="427.55" x2="163.00" y2="443.50" stroke="#8195f8" stroke-width="0.9" opacity="0.8"/>
<g clip-path="url(#clipC)">
<line x1="160.80" y1="427.55" x2="165.20" y2="427.55" stroke="#8195f8" stroke-width="0.9" opacity="0.8"/>
<line x1="160.80" y1="443.50" x2="165.20" y2="443.50" stroke="#8195f8" stroke-width="0.9" opacity="0.8"/>
<rect x="161.40" y="431.39" width="3.2" height="3.2" fill="#8195f8"/>
</g>
<line x1="217.80" y1="394.01" x2="217.80" y2="423.02" stroke="#8195f8" stroke-width="0.9" opacity="0.8"/>
<g clip-path="url(#clipC)">
<line x1="215.60" y1="394.01" x2="220.00" y2="394.01" stroke="#8195f8" stroke-width="0.9" opacity="0.8"/>
<line x1="215.60" y1="423.02" x2="220.00" y2="423.02" stroke="#8195f8" stroke-width="0.9" opacity="0.8"/>
<rect x="216.20" y="397.85" width="3.2" height="3.2" fill="#8195f8"/>
</g>
<line x1="272.60" y1="361.55" x2="272.60" y2="397.09" stroke="#8195f8" stroke-width="0.9" opacity="0.8"/>
<g clip-path="url(#clipC)">
<line x1="270.40" y1="361.55" x2="274.80" y2="361.55" stroke="#8195f8" stroke-width="0.9" opacity="0.8"/>
<line x1="270.40" y1="397.09" x2="274.80" y2="397.09" stroke="#8195f8" stroke-width="0.9" opacity="0.8"/>
<rect x="271.00" y="365.39" width="3.2" height="3.2" fill="#8195f8"/>
</g>
<line x1="327.40" y1="334.90" x2="327.40" y2="385.67" stroke="#8195f8" stroke-width="0.9" opacity="0.8"/>
<g clip-path="url(#clipC)">
<line x1="325.20" y1="334.90" x2="329.60" y2="334.90" stroke="#8195f8" stroke-width="0.9" opacity="0.8"/>
<line x1="325.20" y1="385.67" x2="329.60" y2="385.67" stroke="#8195f8" stroke-width="0.9" opacity="0.8"/>
<rect x="325.80" y="342.37" width="3.2" height="3.2" fill="#8195f8"/>
</g>
<line x1="108.20" y1="457.46" x2="108.20" y2="462.90" stroke="#f9a3a3" stroke-width="0.9" opacity="0.8"/>
<g clip-path="url(#clipC)">
<line x1="106.00" y1="457.46" x2="110.40" y2="457.46" stroke="#f9a3a3" stroke-width="0.9" opacity="0.8"/>
<line x1="106.00" y1="462.90" x2="110.40" y2="462.90" stroke="#f9a3a3" stroke-width="0.9" opacity="0.8"/>
<rect x="106.60" y="458.58" width="3.2" height="3.2" fill="#f9a3a3"/>
</g>
<line x1="163.00" y1="424.83" x2="163.00" y2="432.08" stroke="#f9a3a3" stroke-width="0.9" opacity="0.8"/>
<g clip-path="url(#clipC)">
<line x1="160.80" y1="424.83" x2="165.20" y2="424.83" stroke="#f9a3a3" stroke-width="0.9" opacity="0.8"/>
<line x1="160.80" y1="432.08" x2="165.20" y2="432.08" stroke="#f9a3a3" stroke-width="0.9" opacity="0.8"/>
<rect x="161.40" y="426.85" width="3.2" height="3.2" fill="#f9a3a3"/>
</g>
<line x1="217.80" y1="390.38" x2="217.80" y2="397.63" stroke="#f9a3a3" stroke-width="0.9" opacity="0.8"/>
<g clip-path="url(#clipC)">
<line x1="215.60" y1="390.38" x2="220.00" y2="390.38" stroke="#f9a3a3" stroke-width="0.9" opacity="0.8"/>
<line x1="215.60" y1="397.63" x2="220.00" y2="397.63" stroke="#f9a3a3" stroke-width="0.9" opacity="0.8"/>
<rect x="216.20" y="392.41" width="3.2" height="3.2" fill="#f9a3a3"/>
</g>
<line x1="272.60" y1="358.11" x2="272.60" y2="367.17" stroke="#f9a3a3" stroke-width="0.9" opacity="0.8"/>
<g clip-path="url(#clipC)">
<line x1="270.40" y1="358.11" x2="274.80" y2="358.11" stroke="#f9a3a3" stroke-width="0.9" opacity="0.8"/>
<line x1="270.40" y1="367.17" x2="274.80" y2="367.17" stroke="#f9a3a3" stroke-width="0.9" opacity="0.8"/>
<rect x="271.00" y="361.04" width="3.2" height="3.2" fill="#f9a3a3"/>
</g>
<line x1="327.40" y1="324.03" x2="327.40" y2="333.09" stroke="#f9a3a3" stroke-width="0.9" opacity="0.8"/>
<g clip-path="url(#clipC)">
<line x1="325.20" y1="324.03" x2="329.60" y2="324.03" stroke="#f9a3a3" stroke-width="0.9" opacity="0.8"/>
<line x1="325.20" y1="333.09" x2="329.60" y2="333.09" stroke="#f9a3a3" stroke-width="0.9" opacity="0.8"/>
<rect x="325.80" y="326.96" width="3.2" height="3.2" fill="#f9a3a3"/>
</g>
<line x1="108.20" y1="459.28" x2="108.20" y2="464.71" stroke="#f07575" stroke-width="0.9" opacity="0.8"/>
<g clip-path="url(#clipC)">
<line x1="106.00" y1="459.28" x2="110.40" y2="459.28" stroke="#f07575" stroke-width="0.9" opacity="0.8"/>
<line x1="106.00" y1="464.71" x2="110.40" y2="464.71" stroke="#f07575" stroke-width="0.9" opacity="0.8"/>
<rect x="106.60" y="460.39" width="3.2" height="3.2" fill="#f07575"/>
</g>
<line x1="163.00" y1="426.64" x2="163.00" y2="433.89" stroke="#f07575" stroke-width="0.9" opacity="0.8"/>
<g clip-path="url(#clipC)">
<line x1="160.80" y1="426.64" x2="165.20" y2="426.64" stroke="#f07575" stroke-width="0.9" opacity="0.8"/>
<line x1="160.80" y1="433.89" x2="165.20" y2="433.89" stroke="#f07575" stroke-width="0.9" opacity="0.8"/>
<rect x="161.40" y="428.67" width="3.2" height="3.2" fill="#f07575"/>
</g>
<line x1="217.80" y1="391.29" x2="217.80" y2="398.54" stroke="#f07575" stroke-width="0.9" opacity="0.8"/>
<g clip-path="url(#clipC)">
<line x1="215.60" y1="391.29" x2="220.00" y2="391.29" stroke="#f07575" stroke-width="0.9" opacity="0.8"/>
<line x1="215.60" y1="398.54" x2="220.00" y2="398.54" stroke="#f07575" stroke-width="0.9" opacity="0.8"/>
<rect x="216.20" y="393.31" width="3.2" height="3.2" fill="#f07575"/>
</g>
<line x1="272.60" y1="353.21" x2="272.60" y2="362.28" stroke="#f07575" stroke-width="0.9" opacity="0.8"/>
<g clip-path="url(#clipC)">
<line x1="270.40" y1="353.21" x2="274.80" y2="353.21" stroke="#f07575" stroke-width="0.9" opacity="0.8"/>
<line x1="270.40" y1="362.28" x2="274.80" y2="362.28" stroke="#f07575" stroke-width="0.9" opacity="0.8"/>
<rect x="271.00" y="356.15" width="3.2" height="3.2" fill="#f07575"/>
</g>
<line x1="327.40" y1="325.11" x2="327.40" y2="335.99" stroke="#f07575" stroke-width="0.9" opacity="0.8"/>
<g clip-path="url(#clipC)">
<line x1="325.20" y1="325.11" x2="329.60" y2="325.11" stroke="#f07575" stroke-width="0.9" opacity="0.8"/>
<line x1="325.20" y1="335.99" x2="329.60" y2="335.99" stroke="#f07575" stroke-width="0.9" opacity="0.8"/>
<rect x="325.80" y="328.95" width="3.2" height="3.2" fill="#f07575"/>
</g>
<line x1="108.20" y1="460.18" x2="108.20" y2="465.62" stroke="#cc0000" stroke-width="0.9" opacity="0.8"/>
<g clip-path="url(#clipC)">
<line x1="106.00" y1="460.18" x2="110.40" y2="460.18" stroke="#cc0000" stroke-width="0.9" opacity="0.8"/>
<line x1="106.00" y1="465.62" x2="110.40" y2="465.62" stroke="#cc0000" stroke-width="0.9" opacity="0.8"/>
<rect x="106.60" y="461.30" width="3.2" height="3.2" fill="#cc0000"/>
</g>
<line x1="163.00" y1="425.73" x2="163.00" y2="434.80" stroke="#cc0000" stroke-width="0.9" opacity="0.8"/>
<g clip-path="url(#clipC)">
<line x1="160.80" y1="425.73" x2="165.20" y2="425.73" stroke="#cc0000" stroke-width="0.9" opacity="0.8"/>
<line x1="160.80" y1="434.80" x2="165.20" y2="434.80" stroke="#cc0000" stroke-width="0.9" opacity="0.8"/>
<rect x="161.40" y="429.57" width="3.2" height="3.2" fill="#cc0000"/>
</g>
<line x1="217.80" y1="384.94" x2="217.80" y2="392.19" stroke="#cc0000" stroke-width="0.9" opacity="0.8"/>
<g clip-path="url(#clipC)">
<line x1="215.60" y1="384.94" x2="220.00" y2="384.94" stroke="#cc0000" stroke-width="0.9" opacity="0.8"/>
<line x1="215.60" y1="392.19" x2="220.00" y2="392.19" stroke="#cc0000" stroke-width="0.9" opacity="0.8"/>
<rect x="216.20" y="386.97" width="3.2" height="3.2" fill="#cc0000"/>
</g>
<line x1="272.60" y1="343.61" x2="272.60" y2="352.67" stroke="#cc0000" stroke-width="0.9" opacity="0.8"/>
<g clip-path="url(#clipC)">
<line x1="270.40" y1="343.61" x2="274.80" y2="343.61" stroke="#cc0000" stroke-width="0.9" opacity="0.8"/>
<line x1="270.40" y1="352.67" x2="274.80" y2="352.67" stroke="#cc0000" stroke-width="0.9" opacity="0.8"/>
<rect x="271.00" y="346.54" width="3.2" height="3.2" fill="#cc0000"/>
</g>
<line x1="327.40" y1="296.83" x2="327.40" y2="309.52" stroke="#cc0000" stroke-width="0.9" opacity="0.8"/>
<g clip-path="url(#clipC)">
<line x1="325.20" y1="296.83" x2="329.60" y2="296.83" stroke="#cc0000" stroke-width="0.9" opacity="0.8"/>
<line x1="325.20" y1="309.52" x2="329.60" y2="309.52" stroke="#cc0000" stroke-width="0.9" opacity="0.8"/>
<rect x="325.80" y="301.58" width="3.2" height="3.2" fill="#cc0000"/>
</g>
<line x1="108.20" y1="461.09" x2="108.20" y2="466.53" stroke="#800000" stroke-width="0.9" opacity="0.8"/>
<g clip-path="url(#clipC)">
<line x1="106.00" y1="461.09" x2="110.40" y2="461.09" stroke="#800000" stroke-width="0.9" opacity="0.8"/>
<line x1="106.00" y1="466.53" x2="110.40" y2="466.53" stroke="#800000" stroke-width="0.9" opacity="0.8"/>
<rect x="106.60" y="462.21" width="3.2" height="3.2" fill="#800000"/>
</g>
<line x1="163.00" y1="422.29" x2="163.00" y2="433.89" stroke="#800000" stroke-width="0.9" opacity="0.8"/>
<g clip-path="url(#clipC)">
<line x1="160.80" y1="422.29" x2="165.20" y2="422.29" stroke="#800000" stroke-width="0.9" opacity="0.8"/>
<line x1="160.80" y1="433.89" x2="165.20" y2="433.89" stroke="#800000" stroke-width="0.9" opacity="0.8"/>
<rect x="161.40" y="428.67" width="3.2" height="3.2" fill="#800000"/>
</g>
<line x1="217.80" y1="382.77" x2="217.80" y2="390.38" stroke="#800000" stroke-width="0.9" opacity="0.8"/>
<g clip-path="url(#clipC)">
<line x1="215.60" y1="382.77" x2="220.00" y2="382.77" stroke="#800000" stroke-width="0.9" opacity="0.8"/>
<line x1="215.60" y1="390.38" x2="220.00" y2="390.38" stroke="#800000" stroke-width="0.9" opacity="0.8"/>
<rect x="216.20" y="386.06" width="3.2" height="3.2" fill="#800000"/>
</g>
<line x1="272.60" y1="338.35" x2="272.60" y2="346.51" stroke="#800000" stroke-width="0.9" opacity="0.8"/>
<g clip-path="url(#clipC)">
<line x1="270.40" y1="338.35" x2="274.80" y2="338.35" stroke="#800000" stroke-width="0.9" opacity="0.8"/>
<line x1="270.40" y1="346.51" x2="274.80" y2="346.51" stroke="#800000" stroke-width="0.9" opacity="0.8"/>
<rect x="271.00" y="341.28" width="3.2" height="3.2" fill="#800000"/>
</g>
<line x1="327.40" y1="287.10" x2="327.40" y2="297.37" stroke="#800000" stroke-width="0.9" opacity="0.8"/>
<g clip-path="url(#clipC)">
<line x1="325.20" y1="286.50" x2="329.60" y2="286.50" stroke="#800000" stroke-width="0.9" opacity="0.8"/>
<line x1="325.20" y1="297.37" x2="329.60" y2="297.37" stroke="#800000" stroke-width="0.9" opacity="0.8"/>
<rect x="325.80" y="290.34" width="3.2" height="3.2" fill="#800000"/>
</g>
<rect x="66.90" y="298.40" width="3.4" height="3.4" fill="#0000ff"/>
<text x="84.10" y="303.80" font-size="8.8" font-family="Liberation Sans, sans-serif" font-weight="bold" fill="#111" stroke="#111" text-anchor="start" >0.00 h</text>
<rect x="66.90" y="312.40" width="3.4" height="3.4" fill="#8195f8"/>
<text x="84.10" y="317.80" font-size="8.8" font-family="Liberation Sans, sans-serif" font-weight="bold" fill="#111" stroke="#111" text-anchor="start" >0.50 h</text>
<rect x="66.90" y="329.40" width="3.4" height="3.4" fill="#f9a3a3"/>
<text x="84.10" y="334.80" font-size="8.8" font-family="Liberation Sans, sans-serif" font-weight="bold" fill="#111" stroke="#111" text-anchor="start" >0.75 h</text>
<rect x="66.90" y="346.50" width="3.4" height="3.4" fill="#f07575"/>
<text x="84.10" y="351.90" font-size="8.8" font-family="Liberation Sans, sans-serif" font-weight="bold" fill="#111" stroke="#111" text-anchor="start" >1.00 h</text>
<rect x="66.90" y="363.30" width="3.4" height="3.4" fill="#cc0000"/>
<text x="84.10" y="368.70" font-size="8.8" font-family="Liberation Sans, sans-serif" font-weight="bold" fill="#111" stroke="#111" text-anchor="start" >2.00 h</text>
<rect x="66.90" y="379.90" width="3.4" height="3.4" fill="#800000"/>
<text x="84.10" y="385.30" font-size="8.8" font-family="Liberation Sans, sans-serif" font-weight="bold" fill="#111" stroke="#111" text-anchor="start" >3.00 h</text>
<text x="187.50" y="544.60" font-size="9.1" font-family="Liberation Sans, sans-serif" font-weight="bold" fill="#111" stroke="#111" text-anchor="middle" >Acrylamid concentration [M]</text>
<g transform="translate(22.8,399.5) rotate(-90)"><text x="0" y="0" font-size="9.2" font-family="Liberation Sans, sans-serif" font-weight="bold" fill="#111" stroke="#111" text-anchor="middle">F<tspan font-size="7.6" dy="3.3">0</tspan><tspan dy="-3.3">/F</tspan></text></g>
<text x="-0.50" y="288.60" font-size="15.2" font-family="Liberation Sans, sans-serif" font-weight="bold" fill="#111" stroke="#111" text-anchor="start" >c</text>
<g clip-path="url(#clipD)">
<path d="M384.30,487.90L395.48,419.19L406.65,395.61L417.83,321.70L429.00,361.62L451.35,344.91L473.70,318.91L518.40,328.20L518.40,517.06L473.70,348.63L451.35,380.19L429.00,396.91L417.83,422.91L406.65,415.48L395.48,463.76L384.30,495.33Z" fill="#b4b4b4" fill-opacity="0.4" stroke="none"/>
<path d="M384.3,491.8L395.5,441.7L406.7,405.5L417.8,372.0L429.0,378.9L451.4,362.9L473.7,333.6L518.4,422.3" fill="none" stroke="#767676" stroke-width="1.15"/>
<circle cx="384.30" cy="491.80" r="2.1" fill="#767676"/>
<circle cx="395.48" cy="441.66" r="2.1" fill="#767676"/>
<circle cx="406.65" cy="405.45" r="2.1" fill="#767676"/>
<circle cx="417.83" cy="372.02" r="2.1" fill="#767676"/>
<circle cx="429.00" cy="378.90" r="2.1" fill="#767676"/>
<circle cx="451.35" cy="362.92" r="2.1" fill="#767676"/>
<circle cx="473.70" cy="333.58" r="2.1" fill="#767676"/>
<circle cx="518.40" cy="422.35" r="2.1" fill="#767676"/>
<path d="M384.30,489.76L395.48,415.29L406.65,408.05L429.00,374.62L473.70,317.61L518.40,311.86L518.40,327.27L473.70,376.11L429.00,415.48L406.65,495.33L395.48,486.04L384.30,506.47Z" fill="#f9b88a" fill-opacity="0.45" stroke="none"/>
<path d="M384.30,473.04L406.65,413.62L417.83,398.76L429.00,336.74L473.70,344.91L518.40,328.94L518.40,370.91L473.70,370.91L429.00,382.05L417.83,417.33L406.65,430.33L384.30,491.61Z" fill="#8a5cc0" fill-opacity="0.35" stroke="none"/>
<path d="M384.3,500.9L395.5,450.6L406.7,447.4L429.0,395.6L473.7,347.5L518.4,318.7" fill="none" stroke="#f07f2a" stroke-width="1.15"/>
<circle cx="384.30" cy="500.90" r="2.1" fill="#f07f2a"/>
<circle cx="395.48" cy="450.58" r="2.1" fill="#f07f2a"/>
<circle cx="406.65" cy="447.42" r="2.1" fill="#f07f2a"/>
<circle cx="429.00" cy="395.61" r="2.1" fill="#f07f2a"/>
<circle cx="473.70" cy="347.51" r="2.1" fill="#f07f2a"/>
<circle cx="518.40" cy="318.73" r="2.1" fill="#f07f2a"/>
<path d="M384.3,482.0L406.7,422.9L417.8,408.2L429.0,359.0L473.7,358.3L518.4,349.7" fill="none" stroke="#5418a6" stroke-width="1.35"/>
<rect x="382.40" y="480.06" width="3.8" height="3.8" fill="#5418a6"/>
<rect x="404.75" y="421.01" width="3.8" height="3.8" fill="#5418a6"/>
<rect x="415.93" y="406.34" width="3.8" height="3.8" fill="#5418a6"/>
<rect x="427.10" y="357.13" width="3.8" height="3.8" fill="#5418a6"/>
<rect x="471.80" y="356.38" width="3.8" height="3.8" fill="#5418a6"/>
<rect x="516.50" y="347.84" width="3.8" height="3.8" fill="#5418a6"/>
<path d="M384.30,500.90L406.65,485.49L429.00,482.52L473.70,480.47L496.05,478.43L518.40,421.05L540.75,356.05L563.10,314.64L652.50,321.14L652.50,406.56L563.10,315.94L540.75,511.11L518.40,497.00L496.05,482.89L473.70,488.64L429.00,489.57L406.65,492.73L384.30,500.90Z" fill="#f27ec0" fill-opacity="0.45" stroke="none"/>
<path d="M384.3,490.3L385.6,490.3L387.0,490.3L388.3,490.3L389.7,490.3L391.0,490.3L392.4,490.3L393.7,490.3L395.1,490.3L396.4,490.3L397.8,490.3L399.1,490.3L400.5,490.3L401.8,490.3L403.2,490.3L404.5,490.3L405.9,490.3L407.2,490.3L408.6,490.3L409.9,490.3L411.3,490.3L412.6,490.3L414.0,490.3L415.3,490.3L416.6,490.3L418.0,490.3L419.3,490.3L420.7,490.3L422.0,490.3L423.4,490.3L424.7,490.3L426.1,490.3L427.4,490.3L428.8,490.3L430.1,490.3L431.5,490.3L432.8,490.3L434.2,490.3L435.5,490.3L436.9,490.2L438.2,490.2L439.6,490.2L440.9,490.2L442.3,490.2L443.6,490.2L444.9,490.2L446.3,490.2L447.6,490.2L449.0,490.2L450.3,490.1L451.7,490.1L453.0,490.1L454.4,490.1L455.7,490.0L457.1,490.0L458.4,490.0L459.8,490.0L461.1,489.9L462.5,489.9L463.8,489.8L465.2,489.8L466.5,489.7L467.9,489.7L469.2,489.6L470.6,489.5L471.9,489.4L473.3,489.3L474.6,489.2L475.9,489.1L477.3,489.0L478.6,488.8L480.0,488.7L481.3,488.5L482.7,488.3L484.0,488.1L485.4,487.9L486.7,487.6L488.1,487.3L489.4,487.0L490.8,486.7L492.1,486.3L493.5,485.9L494.8,485.4L496.2,484.9L497.5,484.4L498.9,483.8L500.2,483.1L501.6,482.4L502.9,481.6L504.2,480.7L505.6,479.8L506.9,478.8L508.3,477.6L509.6,476.4L511.0,475.1L512.3,473.6L513.7,472.1L515.0,470.4L516.4,468.6L517.7,466.6L519.1,464.5L520.4,462.3L521.8,459.9L523.1,457.4L524.5,454.7L525.8,451.8L527.2,448.9L528.5,445.8L529.9,442.5L531.2,439.1L532.6,435.6L533.9,432.0L535.2,428.4L536.6,424.6L537.9,420.8L539.3,417.0L540.6,413.1L542.0,409.3L543.3,405.5L544.7,401.7L546.0,398.0L547.4,394.3L548.7,390.8L550.1,387.4L551.4,384.0L552.8,380.9L554.1,377.8L555.5,374.9L556.8,372.1L558.2,369.5L559.5,367.1L560.9,364.8L562.2,362.6L563.5,360.6L564.9,358.7L566.2,356.9L567.6,355.3L568.9,353.8L570.3,352.4L571.6,351.1L573.0,350.0L574.3,348.9L575.7,347.9L577.0,347.0L578.4,346.2L579.7,345.4L581.1,344.7L582.4,344.1L583.8,343.5L585.1,343.0L586.5,342.5L587.8,342.1L589.2,341.7L590.5,341.3L591.9,341.0L593.2,340.7L594.5,340.4L595.9,340.2L597.2,340.0L598.6,339.8L599.9,339.6L601.3,339.4L602.6,339.3L604.0,339.1L605.3,339.0L606.7,338.9L608.0,338.8L609.4,338.7L610.7,338.6L612.1,338.6L613.4,338.5L614.8,338.4L616.1,338.4L617.5,338.3L618.8,338.3L620.2,338.2L621.5,338.2L622.8,338.2L624.2,338.1L625.5,338.1L626.9,338.1L628.2,338.1L629.6,338.0L630.9,338.0L632.3,338.0L633.6,338.0L635.0,338.0L636.3,338.0L637.7,338.0L639.0,337.9L640.4,337.9L641.7,337.9L643.1,337.9L644.4,337.9L645.8,337.9L647.1,337.9L648.5,337.9L649.8,337.9L651.2,337.9L652.5,337.9" fill="none" stroke="#ec1a8a" stroke-width="1.6"/>
<circle cx="384.30" cy="500.90" r="2.1" fill="#ec1a8a"/>
<circle cx="406.65" cy="489.20" r="2.1" fill="#ec1a8a"/>
<circle cx="429.00" cy="486.23" r="2.1" fill="#ec1a8a"/>
<circle cx="473.70" cy="484.56" r="2.1" fill="#ec1a8a"/>
<circle cx="496.05" cy="480.66" r="2.1" fill="#ec1a8a"/>
<circle cx="518.40" cy="460.97" r="2.1" fill="#ec1a8a"/>
<circle cx="540.75" cy="435.53" r="2.1" fill="#ec1a8a"/>
<circle cx="563.10" cy="315.94" r="2.1" fill="#ec1a8a"/>
<circle cx="652.50" cy="364.04" r="2.1" fill="#ec1a8a"/>
</g>
<line x1="379.80" y1="296.40" x2="656.50" y2="296.40" stroke="#3c3c3c" stroke-width="1.2" />
<line x1="379.80" y1="296.40" x2="379.80" y2="519.20" stroke="#3c3c3c" stroke-width="1.2" />
<line x1="379.80" y1="519.20" x2="656.50" y2="519.20" stroke="#3c3c3c" stroke-width="1.2" />
<line x1="656.50" y1="296.40" x2="656.50" y2="519.20" stroke="#9068d0" stroke-width="1.5" />
<line x1="379.80" y1="500.90" x2="375.80" y2="500.90" stroke="#3c3c3c" stroke-width="1.0" />
<text x="371.30" y="504.50" font-size="8.8" font-family="Liberation Sans, sans-serif" font-weight="bold" fill="#111" stroke="#111" text-anchor="end" >0.0</text>
<line x1="379.80" y1="454.47" x2="377.80" y2="454.47" stroke="#3c3c3c" stroke-width="1.0" />
<line x1="379.80" y1="408.05" x2="375.80" y2="408.05" stroke="#3c3c3c" stroke-width="1.0" />
<text x="371.30" y="411.65" font-size="8.8" font-family="Liberation Sans, sans-serif" font-weight="bold" fill="#111" stroke="#111" text-anchor="end" >0.5</text>
<line x1="379.80" y1="361.62" x2="377.80" y2="361.62" stroke="#3c3c3c" stroke-width="1.0" />
<line x1="379.80" y1="315.20" x2="375.80" y2="315.20" stroke="#3c3c3c" stroke-width="1.0" />
<text x="371.30" y="318.80" font-size="8.8" font-family="Liberation Sans, sans-serif" font-weight="bold" fill="#111" stroke="#111" text-anchor="end" >1.0</text>
<line x1="384.30" y1="519.20" x2="384.30" y2="523.70" stroke="#3c3c3c" stroke-width="1.0" />
<line x1="384.30" y1="296.40" x2="384.30" y2="300.40" stroke="#3c3c3c" stroke-width="1.0" />
<text x="384.30" y="535.00" font-size="8.8" font-family="Liberation Sans, sans-serif" font-weight="bold" fill="#111" stroke="#111" text-anchor="middle" >0</text>
<line x1="406.65" y1="519.20" x2="406.65" y2="521.20" stroke="#3c3c3c" stroke-width="1.0" />
<line x1="406.65" y1="296.40" x2="406.65" y2="298.40" stroke="#3c3c3c" stroke-width="1.0" />
<line x1="429.00" y1="519.20" x2="429.00" y2="523.70" stroke="#3c3c3c" stroke-width="1.0" />
<line x1="429.00" y1="296.40" x2="429.00" y2="300.40" stroke="#3c3c3c" stroke-width="1.0" />
<text x="429.00" y="535.00" font-size="8.8" font-family="Liberation Sans, sans-serif" font-weight="bold" fill="#111" stroke="#111" text-anchor="middle" >1</text>
<line x1="451.35" y1="519.20" x2="451.35" y2="521.20" stroke="#3c3c3c" stroke-width="1.0" />
<line x1="451.35" y1="296.40" x2="451.35" y2="298.40" stroke="#3c3c3c" stroke-width="1.0" />
<line x1="473.70" y1="519.20" x2="473.70" y2="523.70" stroke="#3c3c3c" stroke-width="1.0" />
<line x1="473.70" y1="296.40" x2="473.70" y2="300.40" stroke="#3c3c3c" stroke-width="1.0" />
<text x="473.70" y="535.00" font-size="8.8" font-family="Liberation Sans, sans-serif" font-weight="bold" fill="#111" stroke="#111" text-anchor="middle" >2</text>
<line x1="496.05" y1="519.20" x2="496.05" y2="521.20" stroke="#3c3c3c" stroke-width="1.0" />
<line x1="496.05" y1="296.40" x2="496.05" y2="298.40" stroke="#3c3c3c" stroke-width="1.0" />
<line x1="518.40" y1="519.20" x2="518.40" y2="523.70" stroke="#3c3c3c" stroke-width="1.0" />
<line x1="518.40" y1="296.40" x2="518.40" y2="300.40" stroke="#3c3c3c" stroke-width="1.0" />
<text x="518.40" y="535.00" font-size="8.8" font-family="Liberation Sans, sans-serif" font-weight="bold" fill="#111" stroke="#111" text-anchor="middle" >3</text>
<line x1="540.75" y1="519.20" x2="540.75" y2="521.20" stroke="#3c3c3c" stroke-width="1.0" />
<line x1="540.75" y1="296.40" x2="540.75" y2="298.40" stroke="#3c3c3c" stroke-width="1.0" />
<line x1="563.10" y1="519.20" x2="563.10" y2="523.70" stroke="#3c3c3c" stroke-width="1.0" />
<line x1="563.10" y1="296.40" x2="563.10" y2="300.40" stroke="#3c3c3c" stroke-width="1.0" />
<text x="563.10" y="535.00" font-size="8.8" font-family="Liberation Sans, sans-serif" font-weight="bold" fill="#111" stroke="#111" text-anchor="middle" >4</text>
<line x1="585.45" y1="519.20" x2="585.45" y2="521.20" stroke="#3c3c3c" stroke-width="1.0" />
<line x1="585.45" y1="296.40" x2="585.45" y2="298.40" stroke="#3c3c3c" stroke-width="1.0" />
<line x1="607.80" y1="519.20" x2="607.80" y2="523.70" stroke="#3c3c3c" stroke-width="1.0" />
<line x1="607.80" y1="296.40" x2="607.80" y2="300.40" stroke="#3c3c3c" stroke-width="1.0" />
<text x="607.80" y="535.00" font-size="8.8" font-family="Liberation Sans, sans-serif" font-weight="bold" fill="#111" stroke="#111" text-anchor="middle" >5</text>
<line x1="630.15" y1="519.20" x2="630.15" y2="521.20" stroke="#3c3c3c" stroke-width="1.0" />
<line x1="630.15" y1="296.40" x2="630.15" y2="298.40" stroke="#3c3c3c" stroke-width="1.0" />
<line x1="652.50" y1="519.20" x2="652.50" y2="523.70" stroke="#3c3c3c" stroke-width="1.0" />
<line x1="652.50" y1="296.40" x2="652.50" y2="300.40" stroke="#3c3c3c" stroke-width="1.0" />
<text x="652.50" y="535.00" font-size="8.8" font-family="Liberation Sans, sans-serif" font-weight="bold" fill="#111" stroke="#111" text-anchor="middle" >6</text>
<line x1="656.50" y1="519.20" x2="652.90" y2="519.20" stroke="#8a5cc8" stroke-width="1.1" />
<text x="663.90" y="521.50" font-size="8.2" font-family="Liberation Sans, sans-serif" font-weight="bold" fill="#5224a8" stroke="#5224a8" text-anchor="middle" >6</text>
<line x1="656.50" y1="496.95" x2="652.90" y2="496.95" stroke="#8a5cc8" stroke-width="1.1" />
<line x1="656.50" y1="474.70" x2="652.90" y2="474.70" stroke="#8a5cc8" stroke-width="1.1" />
<text x="663.90" y="477.00" font-size="8.2" font-family="Liberation Sans, sans-serif" font-weight="bold" fill="#5224a8" stroke="#5224a8" text-anchor="middle" >7</text>
<line x1="656.50" y1="452.45" x2="652.90" y2="452.45" stroke="#8a5cc8" stroke-width="1.1" />
<line x1="656.50" y1="430.20" x2="652.90" y2="430.20" stroke="#8a5cc8" stroke-width="1.1" />
<text x="663.90" y="432.50" font-size="8.2" font-family="Liberation Sans, sans-serif" font-weight="bold" fill="#5224a8" stroke="#5224a8" text-anchor="middle" >8</text>
<line x1="656.50" y1="407.95" x2="652.90" y2="407.95" stroke="#8a5cc8" stroke-width="1.1" />
<line x1="656.50" y1="385.70" x2="652.90" y2="385.70" stroke="#8a5cc8" stroke-width="1.1" />
<text x="663.90" y="388.00" font-size="8.2" font-family="Liberation Sans, sans-serif" font-weight="bold" fill="#5224a8" stroke="#5224a8" text-anchor="middle" >9</text>
<line x1="656.50" y1="363.45" x2="652.90" y2="363.45" stroke="#8a5cc8" stroke-width="1.1" />
<line x1="656.50" y1="341.20" x2="652.90" y2="341.20" stroke="#8a5cc8" stroke-width="1.1" />
<text x="663.90" y="343.50" font-size="8.2" font-family="Liberation Sans, sans-serif" font-weight="bold" fill="#5224a8" stroke="#5224a8" text-anchor="middle" >10</text>
<line x1="656.50" y1="318.95" x2="652.90" y2="318.95" stroke="#8a5cc8" stroke-width="1.1" />
<line x1="656.50" y1="296.70" x2="652.90" y2="296.70" stroke="#8a5cc8" stroke-width="1.1" />
<text x="663.90" y="299.00" font-size="8.2" font-family="Liberation Sans, sans-serif" font-weight="bold" fill="#5224a8" stroke="#5224a8" text-anchor="middle" >11</text>
<text x="512.80" y="550.20" font-size="9.0" font-family="Liberation Sans, sans-serif" font-weight="bold" fill="#111" stroke="#111" text-anchor="middle" >Time [h]</text>
<text transform="translate(352.9,399.3) rotate(-90)" font-size="9.2" font-family="Liberation Sans, sans-serif" font-weight="bold" fill="#111" stroke="#111" text-anchor="middle">norm. Fluorescence intensity</text>
<text transform="translate(683.4,399.2) rotate(-90)" font-size="9" font-family="Liberation Sans, sans-serif" font-weight="bold" fill="#5020a0" stroke="#5020a0" text-anchor="middle">Quenching constant K</text>
<text x="559.10" y="473.50" font-size="9.1" font-family="Liberation Sans, sans-serif" font-weight="bold" fill="#ec1a8a" stroke="#ec1a8a" text-anchor="start" >ThT Fluorescence</text>
<text x="559.10" y="485.70" font-size="9.1" font-family="Liberation Sans, sans-serif" font-weight="bold" fill="#f08a3c" stroke="#f08a3c" text-anchor="start" >Trp Fluorescence</text>
<text x="559.10" y="499.90" font-size="9.1" font-family="Liberation Sans, sans-serif" font-weight="bold" fill="#999999" stroke="#999999" text-anchor="start" >ANS Fluorescece</text>
<text x="559.10" y="512.00" font-size="9.1" font-family="Liberation Sans, sans-serif" font-weight="bold" fill="#5a1fa8" stroke="#5a1fa8" text-anchor="start" >Acrylamid quenching</text>
<text x="350.00" y="290.70" font-size="15.2" font-family="Liberation Sans, sans-serif" font-weight="bold" fill="#111" stroke="#111" text-anchor="start" >d</text>
</svg>
</body></html>
